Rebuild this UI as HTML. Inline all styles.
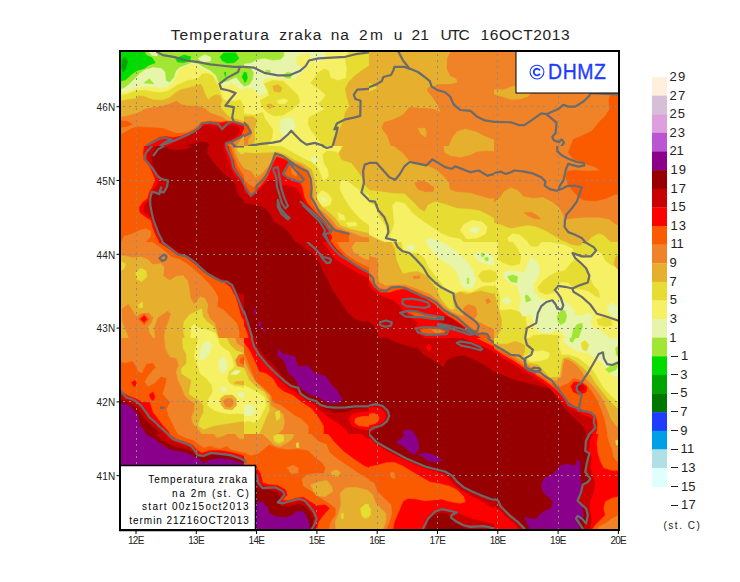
<!DOCTYPE html>
<html><head><meta charset="utf-8"><title>Temperatura zraka</title><style>
html,body{margin:0;padding:0;background:#fff}
#w{position:relative;width:740px;height:582px;overflow:hidden;background:#fff;font-family:"Liberation Sans",sans-serif;color:#111}
.t{position:absolute;white-space:nowrap;line-height:1}

</style></head><body><div id="w">
<svg width="740" height="582" viewBox="0 0 740 582" style="position:absolute;left:0;top:0">
<defs><clipPath id="mapclip"><rect x="120" y="51" width="499" height="479"/></clipPath></defs>
<g clip-path="url(#mapclip)">
<rect x="120" y="51" width="499" height="479" fill="#f08228"/>
<clipPath id="c0"><rect x="119" y="50" width="125" height="96"/></clipPath>
<g clip-path="url(#c0)" stroke-linejoin="round">
<rect x="119" y="50" width="125" height="96" fill="#f08228"/>
<polygon fill="#e6af2d" stroke="#e6af2d" stroke-width="0.6" points="119.0,50.0 244.0,50.0 244.0,122.3 237.2,121.8 232.2,121.8 227.1,120.6 222.4,116.7 215.3,114.2 210.2,112.5 205.1,108.3 198.4,105.7 189.9,105.7 181.5,104.1 176.4,100.7 168.0,104.1 157.9,106.6 146.0,108.3 137.6,112.5 129.1,115.0 119.0,117.1"/>
<polygon fill="#e6dc32" stroke="#e6dc32" stroke-width="0.6" points="119.0,50.0 244.0,50.0 244.0,120.9 237.2,118.9 229.6,116.7 225.1,112.5 220.7,106.6 222.4,100.7 220.4,95.3 216.1,94.3 211.1,96.5 208.5,99.3 205.5,94.3 203.5,88.0 200.9,83.4 194.2,85.8 188.3,87.5 180.7,89.2 175.6,92.2 169.7,97.3 162.1,99.8 152.8,99.3 144.3,95.9 138.4,95.3 136.7,98.1 129.1,99.0 119.0,100.7"/>
<polygon fill="#f5f064" stroke="#f5f064" stroke-width="0.6" points="119.0,50.0 244.0,50.0 244.0,105.7 240.5,99.2 234.0,100.8 227.6,100.8 223.7,99.0 220.4,90.5 218.7,86.3 216.1,81.2 212.8,75.3 206.8,72.8 201.8,73.6 198.4,77.9 193.3,79.1 186.6,80.4 181.5,82.9 177.3,84.6 174.7,86.3 168.0,90.5 161.2,92.2 152.8,91.4 144.3,89.7 135.9,90.5 127.4,93.6 119.0,95.3"/>
<polygon fill="#e6f5aa" stroke="#e6f5aa" stroke-width="0.6" points="119.0,50.0 244.0,50.0 244.0,90.0 240.5,88.9 236.2,85.6 231.8,82.4 227.6,85.6 221.0,84.6 217.8,80.4 213.6,73.6 206.8,71.1 201.8,68.6 196.7,64.4 191.6,63.5 184.9,66.0 178.1,70.3 175.6,75.3 173.1,82.1 168.0,86.3 161.2,88.0 152.8,86.3 144.3,86.3 135.9,87.5 129.1,90.5 119.0,92.6"/>
<polygon fill="#a0e632" stroke="#a0e632" stroke-width="0.6" points="119.0,50.0 244.8,50.0 244.8,86.8 240.5,82.4 236.2,77.0 226.4,81.4 218.8,82.4 216.1,75.3 210.2,70.3 203.5,66.9 198.4,63.5 191.6,62.2 186.6,64.4 179.8,66.9 175.6,71.1 173.9,77.0 169.7,82.1 166.3,80.4 165.5,72.0 161.2,67.7 152.8,66.9 144.3,69.4 139.3,73.6 135.0,77.9 130.0,82.9 124.9,87.2 119.0,89.7"/>
<polygon fill="#a0e632" stroke="#a0e632" stroke-width="0.6" points="144.3,82.9 149.4,78.7 153.6,83.8"/>
<polygon fill="#e6f5aa" stroke="#e6f5aa" stroke-width="0.6" points="149.4,52.0 158.7,52.0 157.0,55.9 151.9,55.4"/>
<polygon fill="#e6f5aa" stroke="#e6f5aa" stroke-width="0.6" points="198.4,58.4 204.3,54.7 210.2,56.8 211.1,60.5 205.1,62.2 200.9,61.0"/>
<polygon fill="#00dc00" stroke="#00dc00" stroke-width="0.6" points="119.0,50.0 144.3,50.0 146.0,55.1 151.9,57.6 155.3,62.7 148.6,65.2 144.3,68.6 137.6,70.3 132.5,73.6 125.8,79.6 121.0,81.2 119.0,81.2"/>
<polygon fill="#00dc00" stroke="#00dc00" stroke-width="0.6" points="175.6,58.4 184.0,55.1 190.8,56.8 189.9,60.5 183.2,62.7 177.3,61.8"/>
<polygon fill="#00dc00" stroke="#00dc00" stroke-width="0.6" points="220.0,56.8 223.7,53.0 235.6,52.7 238.9,58.4 233.9,62.7 227.1,63.0 222.0,60.5"/>
<polygon fill="#00dc00" stroke="#00dc00" stroke-width="0.6" points="242.1,77.0 244.0,72.6 247.0,77.0 244.8,81.9"/>
<polygon fill="#00dc00" stroke="#00dc00" stroke-width="0.6" points="224.2,72.8 225.9,72.1 225.4,76.5"/>
<polygon fill="#00a500" stroke="#00a500" stroke-width="0.6" points="122.7,58.4 125.8,57.6 127.4,61.8 125.8,68.6 123.2,72.0 121.5,66.9"/>
<polygon fill="#fa5a00" stroke="#fa5a00" stroke-width="0.6" points="119.0,135.3 125.8,131.9 131.7,128.5 137.6,126.9 152.8,127.7 162.9,128.5 169.7,131.1 176.4,133.6 186.6,132.8 193.3,129.4 198.4,126.0 200.9,122.3 210.2,120.9 220.4,121.8 227.1,120.9 232.2,121.8 237.2,121.8 244.0,124.3 244.0,145.9 119.0,145.9"/>
<polygon fill="#fa5a00" stroke="#fa5a00" stroke-width="0.6" points="119.0,120.9 127.4,121.5 132.2,124.3 126.6,126.4 119.0,127.4"/>
<polygon fill="#ff0000" stroke="#ff0000" stroke-width="0.6" points="146.0,145.9 152.8,141.2 159.5,137.8 165.5,136.5 173.1,137.8 181.5,136.1 189.9,132.8 196.7,129.1 201.8,124.0 210.2,122.3 220.4,123.0 227.1,121.8 237.2,123.0 244.0,125.2 244.0,129.4 241.5,135.3 237.2,137.8 231.3,141.2 225.8,142.9 225.4,145.9"/>
<polygon fill="#c80000" stroke="#c80000" stroke-width="0.6" points="168.0,145.9 174.7,142.1 186.6,137.0 195.0,132.8 201.8,126.9 208.5,125.2 217.0,126.9 222.0,129.1 227.1,125.2 235.6,125.2 239.8,128.5 238.1,134.5 232.2,138.7 226.3,141.2 222.9,145.9"/>
<polygon fill="#f08228" stroke="#f08228" stroke-width="0.6" points="244.0,130.2 242.0,135.8 238.1,138.7 232.2,142.6 228.8,145.9 244.0,145.9"/>
<polygon fill="#e6af2d" stroke="#e6af2d" stroke-width="0.6" points="244.0,134.5 241.0,139.5 237.2,145.9 244.0,145.9"/>
<polygon fill="#960000" stroke="#960000" stroke-width="0.6" points="186.6,145.9 193.3,143.8 200.1,142.1 206.8,142.6 210.2,145.9"/>
</g>
<clipPath id="c1"><rect x="244" y="50" width="125" height="96"/></clipPath>
<g clip-path="url(#c1)" stroke-linejoin="round">
<rect x="244" y="50" width="125" height="96" fill="#f5f064"/>
<polygon fill="#e6f5aa" stroke="#e6f5aa" stroke-width="0.6" points="244.0,50.0 325.1,50.0 324.7,57.6 318.3,62.2 312.4,60.5 307.3,66.0 301.4,72.8 294.7,77.9 287.9,79.6 277.8,77.9 269.3,77.9 262.6,79.6 264.3,86.3 266.8,92.2 260.9,95.3 255.8,92.2 253.3,88.0 244.0,88.0"/>
<polygon fill="#a0e632" stroke="#a0e632" stroke-width="0.6" points="244.0,50.0 283.7,50.0 283.7,55.9 280.3,59.3 272.7,60.1 264.3,58.1 257.5,59.3 250.8,62.7 244.0,63.5"/>
<polygon fill="#a0e632" stroke="#a0e632" stroke-width="0.6" points="244.0,67.7 250.8,68.6 253.3,72.8 252.4,79.6 249.1,84.6 244.0,86.3"/>
<polygon fill="#00dc00" stroke="#00dc00" stroke-width="0.6" points="244.0,72.0 246.5,72.8 247.4,77.9 245.7,82.1 244.0,82.1"/>
<polygon fill="#a0e632" stroke="#a0e632" stroke-width="0.6" points="282.9,75.3 287.9,72.0 292.1,73.6 290.5,78.4 285.4,77.9"/>
<polygon fill="#a0e632" stroke="#a0e632" stroke-width="0.6" points="265.1,70.6 269.3,69.9 271.0,72.0 266.8,72.8"/>
<polygon fill="#f5f064" stroke="#f5f064" stroke-width="0.6" points="296.4,57.6 303.1,54.2 310.7,54.2 309.0,60.1 303.1,66.9 297.2,65.2"/>
<polygon fill="#e6dc32" stroke="#e6dc32" stroke-width="0.6" points="264.3,83.8 272.7,80.4 282.9,81.2 291.3,88.9 298.1,95.6 299.7,102.4 293.0,109.1 282.9,115.0 274.4,115.9 267.6,112.5 262.6,107.4 260.0,100.7 269.3,95.6 267.6,89.7"/>
<polygon fill="#f5f064" stroke="#f5f064" stroke-width="0.6" points="276.9,100.7 284.5,98.6 287.9,100.7 284.5,104.1 278.6,103.7"/>
<polygon fill="#e6af2d" stroke="#e6af2d" stroke-width="0.6" points="272.7,86.3 277.8,84.6 282.0,88.0 280.3,92.2 274.4,91.4"/>
<polygon fill="#e6af2d" stroke="#e6af2d" stroke-width="0.6" points="266.8,104.9 271.0,103.7 273.6,106.6 269.3,108.8"/>
<polygon fill="#e6dc32" stroke="#e6dc32" stroke-width="0.6" points="310.7,82.9 318.3,72.8 324.2,68.9 328.5,71.1 330.5,77.9 338.6,80.7 346.2,77.9 347.0,68.6 345.4,60.1 348.7,52.0 369.0,52.0 369.0,145.9 323.4,145.9 318.3,139.5 311.6,131.1 308.2,124.3 309.0,117.6 318.3,112.5 325.1,109.1 318.3,104.1 323.4,99.0 325.9,94.8 320.0,89.7 314.9,86.3"/>
<polygon fill="#e6af2d" stroke="#e6af2d" stroke-width="0.6" points="369.0,66.0 362.2,70.3 355.5,75.3 348.7,82.1 345.4,88.9 347.0,97.3 349.6,105.7 345.4,112.5 343.7,120.9 338.6,131.1 333.5,137.8 331.8,145.9 369.0,145.9"/>
<polygon fill="#e6dc32" stroke="#e6dc32" stroke-width="0.6" points="244.0,114.2 254.1,115.0 262.6,112.5 264.3,117.6 267.6,122.6 272.7,129.4 271.9,137.8 267.6,145.9 244.0,145.9"/>
<polygon fill="#e6af2d" stroke="#e6af2d" stroke-width="0.6" points="244.0,116.7 252.4,116.7 256.7,119.3 255.8,124.3 254.1,131.1 255.0,139.5 252.4,145.9 244.0,145.9"/>
<polygon fill="#f08228" stroke="#f08228" stroke-width="0.6" points="244.0,122.6 248.2,124.3 251.6,131.1 250.8,136.1 248.2,139.5 247.4,145.9 244.0,145.9"/>
<polygon fill="#fa5a00" stroke="#fa5a00" stroke-width="0.6" points="244.0,124.3 246.5,126.0 249.1,131.9 247.4,135.3 244.0,135.3"/>
<polygon fill="#e6f5aa" stroke="#e6f5aa" stroke-width="0.6" points="280.3,120.9 286.2,117.6 293.8,119.3 295.5,126.0 293.0,131.1 287.9,134.5 282.9,137.8 280.3,131.1"/>
</g>
<clipPath id="c2"><rect x="369" y="50" width="125" height="96"/></clipPath>
<g clip-path="url(#c2)" stroke-linejoin="round">
<rect x="369" y="50" width="125" height="96" fill="#e6af2d"/>
<polygon fill="#f08228" stroke="#f08228" stroke-width="0.6" points="494.0,50.0 451.8,50.0 447.5,58.4 447.0,68.6 450.1,75.3 456.8,78.7 457.7,82.9 450.1,84.6 439.9,84.6 428.1,88.0 427.3,90.5 433.2,98.1 438.3,105.7 440.8,112.5 433.2,109.1 419.7,108.3 409.5,107.4 402.8,115.0 394.3,119.3 384.2,122.6 381.7,127.7 387.6,136.1 391.0,145.9 448.4,145.9 451.8,137.8 456.8,131.1 465.3,128.5 475.4,131.1 485.6,136.1 494.0,139.5"/>
<polygon fill="#e6af2d" stroke="#e6af2d" stroke-width="0.6" points="418.0,128.5 424.7,128.0 426.4,132.8 425.6,137.0 421.4,134.5"/>
<polygon fill="#e6dc32" stroke="#e6dc32" stroke-width="0.6" points="369.0,82.9 374.1,85.5 376.6,88.0 369.0,91.4"/>
</g>
<clipPath id="c3"><rect x="494" y="50" width="126" height="96"/></clipPath>
<g clip-path="url(#c3)" stroke-linejoin="round">
<rect x="494" y="50" width="126" height="96" fill="#f08228"/>
<polygon fill="#e6af2d" stroke="#e6af2d" stroke-width="0.6" points="494.0,89.7 504.1,89.7 512.6,86.3 516.8,86.3 516.8,92.2 530.3,93.1 527.8,96.5 519.3,99.0 510.9,99.3 502.4,96.5 494.0,94.3"/>
<polygon fill="#fa5a00" stroke="#fa5a00" stroke-width="0.6" points="619.8,93.1 610.6,94.3 608.9,100.7 609.7,109.1 605.5,115.9 598.7,122.6 592.0,131.1 581.8,136.1 573.4,139.5 570.9,145.9 619.8,145.9"/>
</g>
<clipPath id="c4"><rect x="119" y="146" width="125" height="96"/></clipPath>
<g clip-path="url(#c4)" stroke-linejoin="round">
<rect x="119" y="146" width="125" height="96" fill="#fa5a00"/>
<polygon fill="#ff0000" stroke="#ff0000" stroke-width="0.6" points="144.3,146.0 143.5,152.8 144.3,159.5 149.4,166.3 152.8,173.0 155.3,179.8 152.8,186.5 149.4,192.5 147.7,198.4 142.6,202.6 139.3,207.7 140.1,212.7 146.0,216.9 151.1,220.3 152.8,227.1 155.3,233.8 159.5,241.9 244.8,241.9 244.8,146.0"/>
<polygon fill="#c80000" stroke="#c80000" stroke-width="0.6" points="148.6,146.0 146.9,154.4 148.6,161.2 152.8,168.0 156.2,174.7 159.5,179.8 157.0,185.7 151.9,190.8 150.2,196.7 148.6,201.7 144.3,205.1 143.5,211.0 147.7,215.3 151.9,217.8 154.5,225.4 157.0,232.1 161.2,241.9 244.8,241.9 244.8,188.2 240.6,182.3 235.6,177.2 231.3,170.5 228.8,162.9 225.8,154.4 222.9,146.0"/>
<polygon fill="#960000" stroke="#960000" stroke-width="0.6" points="154.5,151.1 151.9,157.8 152.8,164.6 157.0,171.3 161.2,177.2 168.0,180.6 166.3,188.2 161.2,194.1 155.3,193.3 151.9,195.8 151.1,203.4 151.1,213.6 153.6,220.3 157.0,225.4 159.5,233.8 163.8,241.9 244.8,241.9 244.8,200.9 238.9,196.7 236.4,191.6 234.7,184.0 230.5,178.9 223.7,173.9 217.0,167.1 211.9,160.4 206.8,152.8 207.7,146.0 193.3,146.0 186.6,149.4 174.7,150.2 166.3,148.5 161.2,146.0 157.0,146.0"/>
<polygon fill="#fa5a00" stroke="#fa5a00" stroke-width="0.6" points="228.8,146.0 230.5,152.8 233.9,160.4 235.6,168.0 239.8,174.7 244.8,180.6 244.8,146.0"/>
<polygon fill="#f08228" stroke="#f08228" stroke-width="0.6" points="231.3,146.0 233.0,152.8 235.6,159.5 238.1,166.3 242.3,173.0 244.8,176.4 244.8,146.0"/>
<polygon fill="#e6af2d" stroke="#e6af2d" stroke-width="0.6" points="233.9,146.0 235.6,152.8 238.1,158.7 241.5,164.6 244.8,168.8 244.8,146.0"/>
<polygon fill="#e6dc32" stroke="#e6dc32" stroke-width="0.6" points="237.2,147.7 244.8,147.7 244.8,153.6 240.6,153.6 238.1,151.1"/>
<polygon fill="#f08228" stroke="#f08228" stroke-width="0.6" points="121.5,241.9 124.1,236.4 132.5,233.8 139.3,230.5 146.0,228.8 151.1,231.3 150.2,237.2 146.0,241.9"/>
</g>
<clipPath id="c5"><rect x="244" y="146" width="125" height="96"/></clipPath>
<g clip-path="url(#c5)" stroke-linejoin="round">
<rect x="244" y="146" width="125" height="96" fill="#e6dc32"/>
<polygon fill="#f5f064" stroke="#f5f064" stroke-width="0.6" points="282.0,146.0 291.3,151.1 301.4,157.0 311.6,162.0 317.5,166.3 320.9,173.9 323.4,180.6 328.5,176.4 327.6,169.6 323.4,162.9 322.5,154.4 326.8,150.2 335.2,151.1 339.4,153.6 341.1,146.0"/>
<polygon fill="#f5f064" stroke="#f5f064" stroke-width="0.6" points="340.3,182.3 345.4,179.8 352.1,184.9 358.9,189.9 365.6,194.1 369.8,195.8 369.8,225.4 362.2,220.3 355.5,213.6 348.7,205.1 343.7,196.7 340.3,189.9"/>
<polygon fill="#f5f064" stroke="#f5f064" stroke-width="0.6" points="317.5,195.0 321.7,190.8 327.6,193.3 331.8,199.2 330.1,205.1 323.4,206.8 318.3,202.6"/>
<polygon fill="#f5f064" stroke="#f5f064" stroke-width="0.6" points="337.8,212.7 343.7,215.3 345.4,220.3 339.4,219.5"/>
<polygon fill="#f5f064" stroke="#f5f064" stroke-width="0.6" points="346.2,222.9 355.5,222.0 357.2,225.4 348.7,226.2"/>
<polygon fill="#e6f5aa" stroke="#e6f5aa" stroke-width="0.6" points="310.7,157.8 315.8,157.0 317.5,161.2 313.3,162.9"/>
<polygon fill="#e6f5aa" stroke="#e6f5aa" stroke-width="0.6" points="320.9,196.7 325.1,198.4 326.8,201.7 322.5,201.7"/>
<polygon fill="#e6af2d" stroke="#e6af2d" stroke-width="0.6" points="369.8,146.0 343.7,146.0 338.9,152.8 341.5,159.5 351.6,162.9 356.7,169.6 361.7,176.4 365.1,184.9 370.2,190.3"/>
<polygon fill="#e6af2d" stroke="#e6af2d" stroke-width="0.6" points="244.0,152.8 254.1,153.6 264.3,153.1 272.7,152.8 277.8,151.9 286.2,155.3 294.7,160.4 303.1,163.7 311.6,169.6 314.1,178.1 315.8,188.2 316.6,198.4 321.7,206.8 328.5,211.9 335.2,218.6 340.3,225.4 348.7,228.8 358.9,231.3 369.8,233.8 369.8,241.9 244.0,241.9"/>
<polygon fill="#f08228" stroke="#f08228" stroke-width="0.6" points="244.0,168.8 250.8,171.3 255.8,178.1 260.9,174.7 266.0,169.6 271.0,162.9 275.2,155.3 284.5,157.0 293.0,162.0 301.4,165.4 309.0,171.3 311.6,179.8 312.4,189.9 313.3,200.1 318.3,208.5 325.1,213.6 331.8,220.3 336.9,227.1 345.4,230.5 353.8,233.8 362.2,237.2 369.8,238.1 369.8,241.9 244.0,241.9"/>
<polygon fill="#fa5a00" stroke="#fa5a00" stroke-width="0.6" points="244.0,179.8 249.1,184.9 254.1,187.4 259.2,181.5 265.1,175.6 269.3,168.0 272.7,162.0 276.1,156.1 284.5,158.2 292.1,162.9 299.7,167.1 306.5,172.2 309.0,179.8 310.2,189.9 310.7,200.1 315.8,209.3 322.5,215.3 329.3,222.0 334.4,228.8 342.0,231.3 348.7,233.0 348.7,241.9 244.0,241.9"/>
<polygon fill="#ff0000" stroke="#ff0000" stroke-width="0.6" points="244.0,185.7 250.8,195.0 255.8,190.8 262.6,184.0 267.6,177.2 271.0,169.6 273.6,162.9 276.9,157.0 284.5,159.5 289.6,162.9 286.2,169.6 282.9,174.7 287.1,178.1 294.7,179.8 299.7,182.3 302.3,188.2 304.0,196.7 307.3,203.4 313.3,210.2 320.0,216.9 325.9,223.7 328.5,230.5 331.8,237.2 330.1,241.9 244.0,241.9"/>
<polygon fill="#f08228" stroke="#f08228" stroke-width="0.6" points="291.3,168.0 294.7,167.1 297.2,172.2 296.4,176.4 292.1,173.9"/>
<polygon fill="#c80000" stroke="#c80000" stroke-width="0.6" points="244.0,192.5 250.8,196.7 256.7,193.3 263.4,185.7 269.3,179.8 277.8,180.6 280.3,186.5 286.2,184.9 296.4,188.2 300.6,195.0 303.1,201.7 308.2,207.7 314.9,213.6 320.9,220.3 325.1,227.1 327.6,233.8 328.5,241.9 244.0,241.9"/>
<polygon fill="#960000" stroke="#960000" stroke-width="0.6" points="244.0,203.4 254.1,205.1 264.3,207.7 269.3,213.6 273.6,222.0 282.9,227.1 289.6,233.8 294.7,241.9 244.0,241.9"/>
</g>
<clipPath id="c6"><rect x="369" y="146" width="125" height="96"/></clipPath>
<g clip-path="url(#c6)" stroke-linejoin="round">
<rect x="369" y="146" width="125" height="96" fill="#e6af2d"/>
<polygon fill="#f08228" stroke="#f08228" stroke-width="0.6" points="394.3,146.0 402.8,152.8 409.5,160.4 419.7,164.6 428.1,165.4 436.6,169.6 443.3,175.6 449.2,182.3 450.1,189.1 456.8,191.6 470.4,192.5 480.5,195.8 490.6,198.4 494.8,197.5 494.8,151.9 487.2,151.1 477.1,151.9 470.4,155.3 460.2,157.8 450.1,156.1 444.2,152.8 443.3,146.0"/>
<polygon fill="#f08228" stroke="#f08228" stroke-width="0.6" points="414.6,183.2 419.7,180.6 426.4,182.3 434.0,187.4 433.2,191.6 424.7,191.6 418.0,189.1"/>
<polygon fill="#e6dc32" stroke="#e6dc32" stroke-width="0.6" points="369.0,190.3 379.1,191.6 391.0,193.3 404.5,194.1 412.9,201.7 419.7,209.3 424.7,211.9 428.1,205.1 434.9,201.7 445.0,204.3 456.8,208.5 470.4,209.3 480.5,211.0 494.8,218.6 494.8,241.9 369.0,241.9"/>
<polygon fill="#f5f064" stroke="#f5f064" stroke-width="0.6" points="369.0,203.4 374.1,205.1 379.1,216.9 385.0,225.4 387.6,233.8 389.3,241.9 369.0,241.9"/>
<polygon fill="#f5f064" stroke="#f5f064" stroke-width="0.6" points="392.6,205.1 396.0,201.7 404.5,203.4 412.9,213.6 421.4,220.3 431.5,227.1 441.6,233.8 450.1,237.2 460.2,238.9 463.6,241.9 387.6,241.9 391.0,233.8 394.3,223.7 393.5,213.6"/>
<polygon fill="#f5f064" stroke="#f5f064" stroke-width="0.6" points="460.2,230.5 463.6,224.5 472.0,220.3 482.2,222.0 487.2,227.1 485.6,233.8 477.1,238.1 467.0,238.9"/>
<polygon fill="#e6f5aa" stroke="#e6f5aa" stroke-width="0.6" points="469.5,229.6 473.7,227.1 479.6,228.8 477.1,233.0 472.0,232.5"/>
<polygon fill="#e6f5aa" stroke="#e6f5aa" stroke-width="0.6" points="425.9,239.9 428.1,238.7 432.9,238.7 438.3,240.6 440.8,242.6 425.9,242.6"/>
<polygon fill="#e6af2d" stroke="#e6af2d" stroke-width="0.6" points="368.2,234.7 377.8,239.4 385.0,242.6 368.2,242.6"/>
</g>
<clipPath id="c7"><rect x="494" y="146" width="126" height="96"/></clipPath>
<g clip-path="url(#c7)" stroke-linejoin="round">
<rect x="494" y="146" width="126" height="96" fill="#f08228"/>
<polygon fill="#fa5a00" stroke="#fa5a00" stroke-width="0.6" points="570.9,146.0 568.3,152.8 573.4,158.7 583.5,162.9 595.4,167.1 600.4,170.5 588.6,171.3 575.1,170.5 567.5,171.3 565.8,177.2 568.3,184.9 573.4,191.6 578.5,196.7 583.5,200.1 595.4,200.9 605.5,198.4 615.6,194.1 619.8,195.0 619.8,146.0"/>
<polygon fill="#e6af2d" stroke="#e6af2d" stroke-width="0.6" points="494.0,202.6 500.8,196.7 504.1,191.6 510.9,187.9 517.6,190.3 523.6,196.7 532.9,198.4 543.0,197.5 551.4,201.7 558.2,206.8 562.4,213.6 564.9,220.3 573.4,218.6 585.2,217.8 598.7,217.8 608.9,219.5 615.6,224.5 619.8,226.2 619.8,241.9 494.0,241.9"/>
<polygon fill="#f08228" stroke="#f08228" stroke-width="0.6" points="524.4,212.7 531.2,212.2 537.9,216.1 540.5,219.0 534.5,218.6 527.8,215.6"/>
<polygon fill="#e6dc32" stroke="#e6dc32" stroke-width="0.6" points="494.0,222.9 502.4,225.4 510.9,228.8 519.3,227.1 527.8,225.4 536.2,227.1 544.7,230.5 553.1,235.5 561.6,240.6 564.9,241.9 494.0,241.9"/>
<polygon fill="#e6dc32" stroke="#e6dc32" stroke-width="0.6" points="587.8,241.9 592.0,237.2 598.7,233.8 603.8,235.5 608.9,240.6 610.6,241.9"/>
<polygon fill="#f5f064" stroke="#f5f064" stroke-width="0.6" points="507.5,238.1 512.6,233.8 519.3,234.7 524.4,238.9 527.8,241.9 509.2,241.9"/>
</g>
<clipPath id="c8"><rect x="119" y="242" width="125" height="96"/></clipPath>
<g clip-path="url(#c8)" stroke-linejoin="round">
<rect x="119" y="242" width="125" height="96" fill="#e6af2d"/>
<polygon fill="#f08228" stroke="#f08228" stroke-width="0.6" points="119.0,242.0 119.0,254.7 125.8,255.5 132.5,257.2 141.0,256.4 147.7,258.9 152.8,264.0 161.2,263.1 164.6,267.3 163.8,275.8 169.7,280.0 176.4,275.8 183.2,274.9 188.3,280.9 189.9,289.3 190.8,297.7 194.2,303.7 197.5,299.4 200.1,296.1 205.1,297.7 208.5,304.5 207.7,311.3 210.2,318.0 215.3,323.1 217.8,331.5 218.7,337.9 244.8,337.9 244.8,242.0"/>
<polygon fill="#f08228" stroke="#f08228" stroke-width="0.6" points="122.4,308.7 128.3,304.5 131.7,309.6 135.9,316.3 141.0,313.8 148.6,312.9 152.8,317.2 151.1,323.1 147.7,326.5 149.4,333.2 152.8,337.9 129.1,337.9 125.8,329.8 122.4,321.4"/>
<polygon fill="#f08228" stroke="#f08228" stroke-width="0.6" points="157.9,318.0 168.0,311.3 170.5,313.8 168.0,321.4 164.6,329.8 163.8,337.9 155.3,337.9 154.5,328.1"/>
<polygon fill="#fa5a00" stroke="#fa5a00" stroke-width="0.6" points="152.8,242.0 162.9,248.8 171.4,256.4 179.8,258.9 188.3,264.0 195.0,269.9 203.5,277.5 210.2,284.2 215.3,291.0 218.7,297.7 217.8,306.2 223.7,309.6 230.5,316.3 237.2,323.1 239.8,331.5 239.8,337.9 244.8,337.9 244.8,242.0"/>
<polygon fill="#ff0000" stroke="#ff0000" stroke-width="0.6" points="158.7,242.0 168.0,247.9 176.4,253.8 186.6,257.2 195.0,264.0 203.5,271.6 213.6,278.3 223.7,281.7 230.5,286.8 235.6,296.1 238.9,306.2 241.5,316.3 244.8,321.4 244.8,242.0"/>
<polygon fill="#c80000" stroke="#c80000" stroke-width="0.6" points="162.1,242.0 173.1,249.6 181.5,254.7 189.9,258.0 198.4,265.6 206.8,273.2 217.0,278.3 227.1,281.7 232.2,286.3 237.2,296.1 241.5,306.2 244.8,311.3 244.8,242.0"/>
<polygon fill="#960000" stroke="#960000" stroke-width="0.6" points="164.6,242.0 174.7,248.8 183.2,253.8 191.6,258.0 200.1,265.6 208.5,273.2 218.7,277.5 228.8,280.9 233.9,287.6 237.2,292.7 244.8,294.4 244.8,242.0"/>
<polygon fill="#e6dc32" stroke="#e6dc32" stroke-width="0.6" points="135.9,272.4 141.0,268.2 146.0,270.7 146.9,276.6 141.8,281.7 136.7,279.2"/>
<polygon fill="#e6dc32" stroke="#e6dc32" stroke-width="0.6" points="121.5,261.4 125.8,264.0 124.1,268.2 121.5,270.7"/>
<polygon fill="#e6dc32" stroke="#e6dc32" stroke-width="0.6" points="138.4,304.5 142.6,302.0 142.6,307.9 139.3,307.9"/>
<polygon fill="#e6dc32" stroke="#e6dc32" stroke-width="0.6" points="184.0,321.4 189.9,314.6 196.7,311.3 201.8,308.7 202.6,316.3 206.8,321.4 213.6,326.5 218.7,337.9 184.9,337.9 183.2,329.8"/>
<polygon fill="#f5f064" stroke="#f5f064" stroke-width="0.6" points="190.8,337.9 191.6,326.5 194.2,323.9 198.4,328.1 206.8,329.8 215.3,333.2 217.0,337.9"/>
<polygon fill="#fa5a00" stroke="#fa5a00" stroke-width="0.6" points="138.4,318.9 144.3,313.8 149.4,318.9 144.3,324.8"/>
<polygon fill="#ff0000" stroke="#ff0000" stroke-width="0.6" points="140.6,318.9 144.3,315.8 146.9,319.4 144.0,322.2"/>
</g>
<clipPath id="c9"><rect x="244" y="242" width="125" height="96"/></clipPath>
<g clip-path="url(#c9)" stroke-linejoin="round">
<rect x="244" y="242" width="125" height="96" fill="#960000"/>
<polygon fill="#c80000" stroke="#c80000" stroke-width="0.6" points="297.2,242.0 303.1,247.1 311.6,252.1 318.3,260.6 323.4,270.7 328.5,280.9 333.5,291.0 340.3,301.1 347.0,311.3 353.8,318.0 362.2,321.4 369.8,320.5 369.8,242.0"/>
<polygon fill="#ff0000" stroke="#ff0000" stroke-width="0.6" points="323.4,242.0 328.5,249.6 333.5,256.4 338.6,261.4 348.7,267.3 358.9,273.2 369.8,278.3 369.8,242.0"/>
<polygon fill="#fa5a00" stroke="#fa5a00" stroke-width="0.6" points="331.8,242.0 336.1,247.9 342.0,253.8 348.7,259.7 357.2,265.6 365.6,269.9 369.8,272.4 369.8,242.0"/>
<polygon fill="#f08228" stroke="#f08228" stroke-width="0.6" points="336.9,242.0 341.1,248.8 347.0,254.7 355.5,260.6 363.9,264.8 369.8,267.3 369.8,242.0"/>
<polygon fill="#e6af2d" stroke="#e6af2d" stroke-width="0.6" points="355.5,242.0 352.1,247.1 353.8,252.1 360.6,256.4 365.6,258.9 369.8,259.7 369.8,242.0"/>
<polygon fill="#ff0000" stroke="#ff0000" stroke-width="0.6" points="244.0,316.3 247.4,323.1 250.8,331.5 253.3,337.9 244.0,337.9"/>
<polygon fill="#fa5a00" stroke="#fa5a00" stroke-width="0.6" points="244.0,326.5 246.5,331.5 248.2,337.9 244.0,337.9"/>
<polygon fill="#8b008b" stroke="#8b008b" stroke-width="0.6" points="254.1,309.2 255.8,309.2 256.2,313.8 254.5,313.8"/>
<polygon fill="#8b008b" stroke="#8b008b" stroke-width="0.6" points="258.4,322.2 260.9,322.2 260.9,326.5 259.2,326.5"/>
<polygon fill="#8b008b" stroke="#8b008b" stroke-width="0.6" points="262.2,329.5 265.1,329.5 264.3,332.4"/>
</g>
<clipPath id="c10"><rect x="369" y="242" width="125" height="96"/></clipPath>
<g clip-path="url(#c10)" stroke-linejoin="round">
<rect x="369" y="242" width="125" height="96" fill="#f5f064"/>
<polygon fill="#e6f5aa" stroke="#e6f5aa" stroke-width="0.6" points="426.1,241.2 429.8,247.9 436.6,256.4 443.3,261.4 450.9,265.6 456.8,271.6 459.4,279.2 461.1,285.1 467.0,289.3 473.4,286.3 475.8,279.5 473.2,271.1 469.0,264.0 463.6,258.0 456.8,252.1 448.4,246.2 440.8,241.2"/>
<polygon fill="#e6f5aa" stroke="#e6f5aa" stroke-width="0.6" points="406.2,247.9 411.2,244.5 415.5,247.1 412.9,250.4 408.7,250.4"/>
<polygon fill="#e6f5aa" stroke="#e6f5aa" stroke-width="0.6" points="473.7,255.5 478.8,252.1 487.2,253.0 494.0,258.0 494.8,265.6 487.2,264.0 478.8,261.4"/>
<polygon fill="#a0e632" stroke="#a0e632" stroke-width="0.6" points="481.3,253.0 483.9,253.0 483.9,256.4 481.3,256.4"/>
<polygon fill="#a0e632" stroke="#a0e632" stroke-width="0.6" points="484.7,258.0 488.1,257.2 488.1,260.9 485.6,260.6"/>
<polygon fill="#a0e632" stroke="#a0e632" stroke-width="0.6" points="467.3,278.3 468.7,278.3 468.7,283.4 467.3,283.4"/>
<polygon fill="#e6dc32" stroke="#e6dc32" stroke-width="0.6" points="369.0,242.0 391.0,242.0 401.1,242.0 402.8,250.4 409.5,253.8 418.0,253.0 424.7,258.9 428.1,267.3 434.9,275.8 441.6,284.2 445.9,291.0 456.8,292.7 463.6,291.0 470.4,292.7 477.1,289.3 483.9,286.3 494.8,286.3 494.8,337.9 369.0,337.9"/>
<polygon fill="#e6dc32" stroke="#e6dc32" stroke-width="0.6" points="478.3,275.8 482.2,271.1 490.6,270.0 497.4,274.1 496.5,280.0 490.6,282.4 482.2,281.7"/>
<polygon fill="#e6af2d" stroke="#e6af2d" stroke-width="0.6" points="369.0,242.0 391.0,242.0 394.3,248.8 396.0,258.9 399.4,267.3 402.8,274.1 409.5,272.4 418.0,271.6 426.4,275.8 431.5,282.5 436.6,289.3 439.9,297.7 445.0,304.5 450.1,309.6 455.1,309.6 453.5,301.1 455.1,294.4 460.2,291.8 467.0,294.4 473.7,292.7 480.5,291.0 487.2,292.7 494.8,294.4 494.8,337.9 369.0,337.9"/>
<polygon fill="#f08228" stroke="#f08228" stroke-width="0.6" points="369.0,256.4 375.8,258.0 378.3,264.0 377.4,275.8 379.1,282.5 385.9,285.9 394.3,285.1 404.5,285.1 412.9,287.6 421.4,291.0 429.8,294.4 436.6,299.4 443.3,306.2 450.1,311.3 456.8,314.6 463.6,316.3 463.6,307.9 468.7,304.5 475.4,307.0 477.1,314.6 473.7,319.7 480.5,323.1 487.2,326.5 494.8,329.8 494.8,337.9 369.0,337.9"/>
<polygon fill="#f08228" stroke="#f08228" stroke-width="0.6" points="485.6,299.4 488.9,298.6 490.6,302.0 487.2,303.7"/>
<polygon fill="#f08228" stroke="#f08228" stroke-width="0.6" points="412.9,276.6 419.7,275.8 419.7,278.3 413.8,278.8"/>
<polygon fill="#fa5a00" stroke="#fa5a00" stroke-width="0.6" points="369.0,275.8 374.1,282.5 379.1,288.5 387.6,290.1 396.0,287.6 404.5,286.8 412.9,290.1 421.4,293.5 429.8,297.7 436.6,302.8 443.3,309.6 450.1,314.6 458.5,319.7 467.0,324.8 473.7,329.8 480.5,333.2 487.2,334.9 490.6,337.9 369.0,337.9"/>
<polygon fill="#ff0000" stroke="#ff0000" stroke-width="0.6" points="369.0,280.0 374.1,287.6 380.8,292.7 389.3,292.7 397.7,290.1 405.3,289.3 412.9,292.7 421.4,296.1 428.1,300.3 434.9,304.5 441.6,311.3 448.4,316.3 456.8,321.4 463.6,326.5 470.4,331.5 477.1,335.8 480.5,337.9 369.0,337.9"/>
<polygon fill="#c80000" stroke="#c80000" stroke-width="0.6" points="369.0,285.9 375.8,292.7 384.2,297.7 392.6,300.3 399.4,305.3 402.8,311.3 411.2,318.0 418.0,323.1 414.6,328.1 418.0,333.2 424.7,337.9 369.0,337.9"/>
<polygon fill="#c80000" stroke="#c80000" stroke-width="0.6" points="438.3,316.3 445.0,315.5 453.5,319.7 460.2,324.8 465.3,329.8 460.2,330.7 453.5,327.3 445.0,323.1 438.3,321.4"/>
<polygon fill="#960000" stroke="#960000" stroke-width="0.6" points="369.0,323.1 374.1,326.5 377.4,333.2 378.3,337.9 369.0,337.9"/>
<polygon fill="#fa5a00" stroke="#fa5a00" stroke-width="0.6" points="407.9,312.6 416.3,312.1 426.4,314.6 436.6,316.3 436.6,318.9 426.4,318.0 416.3,316.3"/>
<polygon fill="#fa5a00" stroke="#fa5a00" stroke-width="0.6" points="419.7,329.8 428.1,328.5 439.9,329.0 446.7,330.7 443.3,334.1 433.2,334.6 423.1,333.2"/>
<polygon fill="#f08228" stroke="#f08228" stroke-width="0.6" points="431.5,329.8 439.9,329.8 443.3,331.5 436.6,333.2"/>
</g>
<clipPath id="c11"><rect x="494" y="242" width="126" height="96"/></clipPath>
<g clip-path="url(#c11)" stroke-linejoin="round">
<rect x="494" y="242" width="126" height="96" fill="#f5f064"/>
<polygon fill="#e6dc32" stroke="#e6dc32" stroke-width="0.6" points="498.2,242.0 512.6,242.0 517.6,248.8 521.0,257.2 519.3,264.0 510.9,265.6 502.4,262.3 498.2,258.9"/>
<polygon fill="#e6dc32" stroke="#e6dc32" stroke-width="0.6" points="527.8,242.0 541.3,242.0 537.9,246.2 531.2,246.2"/>
<polygon fill="#e6dc32" stroke="#e6dc32" stroke-width="0.6" points="551.4,242.0 564.9,244.5 573.4,248.8 573.4,252.1 581.8,257.2 592.0,256.4 597.0,250.4 602.1,253.8 605.5,260.6 612.2,265.6 619.8,267.3 619.8,242.0"/>
<polygon fill="#e6dc32" stroke="#e6dc32" stroke-width="0.6" points="537.9,287.6 543.0,280.9 549.7,275.8 556.5,272.4 564.9,270.7 571.7,262.3 576.8,258.9 581.8,264.0 586.9,270.7 590.3,279.2 593.7,285.9 598.7,291.0 599.6,297.7 595.4,296.1 588.6,291.0 581.8,289.3 573.4,288.5 568.3,282.5 561.6,281.7 556.5,285.9 553.1,292.7 546.4,294.4 539.6,291.8"/>
<polygon fill="#e6dc32" stroke="#e6dc32" stroke-width="0.6" points="597.0,319.7 603.8,317.2 610.6,319.7 612.2,324.8 605.5,326.5 598.7,324.8"/>
<polygon fill="#e6dc32" stroke="#e6dc32" stroke-width="0.6" points="494.0,284.2 498.2,291.0 499.9,299.4 499.1,309.6 502.4,310.4 510.9,309.6 519.3,312.1 525.2,316.3 526.9,328.1 525.2,337.9 494.0,337.9"/>
<polygon fill="#e6af2d" stroke="#e6af2d" stroke-width="0.6" points="566.6,242.0 583.5,242.0 580.1,245.4 571.7,244.5"/>
<polygon fill="#e6af2d" stroke="#e6af2d" stroke-width="0.6" points="619.8,253.8 615.6,257.2 613.9,264.0 617.3,269.0 619.8,269.9"/>
<polygon fill="#e6af2d" stroke="#e6af2d" stroke-width="0.6" points="494.0,292.7 496.0,299.4 498.7,309.6 501.6,321.4 500.8,329.8 495.7,337.9 494.0,337.9"/>
<polygon fill="#e6f5aa" stroke="#e6f5aa" stroke-width="0.6" points="503.3,272.4 510.9,270.7 524.4,272.4 527.8,264.0 530.3,257.2 536.2,260.6 539.6,267.3 538.8,275.8 532.9,284.2 534.5,292.7 541.3,299.4 549.7,300.3 556.5,301.1 563.3,300.3 568.3,304.5 573.4,309.6 575.1,314.6 581.8,316.3 588.6,312.9 592.0,316.3 590.3,323.1 595.4,329.8 602.1,331.5 608.9,337.9 566.5,337.9 561.1,332.0 555.7,329.3 550.2,333.4 539.4,332.0 534.0,323.9 531.3,314.5 522.7,316.3 519.3,309.6 521.0,301.1 519.3,292.7 517.6,285.9 510.9,283.4 504.1,278.3"/>
<polygon fill="#e6f5aa" stroke="#e6f5aa" stroke-width="0.6" points="500.8,300.3 506.7,296.9 511.7,301.1 506.7,304.2"/>
<polygon fill="#e6f5aa" stroke="#e6f5aa" stroke-width="0.6" points="607.2,306.2 612.2,302.8 617.3,306.2 619.8,312.9 619.8,318.0 613.9,316.3 608.9,312.9"/>
<polygon fill="#e6dc32" stroke="#e6dc32" stroke-width="0.6" points="530.0,338.6 532.9,335.4 544.7,334.7 558.2,335.4 561.1,338.6"/>
<polygon fill="#e6dc32" stroke="#e6dc32" stroke-width="0.6" points="494.0,270.4 496.5,273.2 497.0,279.2 494.0,282.2"/>
<polygon fill="#a0e632" stroke="#a0e632" stroke-width="0.6" points="507.5,276.6 512.6,274.9 517.6,276.6 516.8,282.5 510.9,281.7"/>
<polygon fill="#a0e632" stroke="#a0e632" stroke-width="0.6" points="525.2,295.2 527.8,295.2 531.2,300.3 526.1,302.0"/>
<polygon fill="#a0e632" stroke="#a0e632" stroke-width="0.6" points="557.3,316.3 560.7,311.3 564.9,310.4 566.6,316.3 564.9,322.2 560.7,324.8 557.9,321.4"/>
<polygon fill="#a0e632" stroke="#a0e632" stroke-width="0.6" points="571.7,337.9 573.4,329.8 576.8,324.8 581.8,323.1 582.7,326.5 580.1,333.2 578.5,337.9"/>
</g>
<clipPath id="c12"><rect x="119" y="338" width="125" height="96"/></clipPath>
<g clip-path="url(#c12)" stroke-linejoin="round">
<rect x="119" y="338" width="125" height="96" fill="#f08228"/>
<polygon fill="#e6af2d" stroke="#e6af2d" stroke-width="0.6" points="164.6,338.0 165.5,348.1 169.7,356.6 176.4,358.3 179.0,365.0 176.4,371.8 178.1,380.2 182.3,388.7 184.9,395.4 189.9,400.5 195.0,403.0 194.2,410.6 191.6,417.4 193.3,424.1 198.4,429.2 201.8,433.9 244.8,433.9 244.8,338.0"/>
<polygon fill="#e6dc32" stroke="#e6dc32" stroke-width="0.6" points="182.3,338.0 183.2,348.1 186.6,354.9 186.6,363.3 181.5,368.4 181.5,373.5 186.6,376.9 191.6,380.2 189.9,388.7 189.1,393.7 193.3,397.1 200.1,400.5 203.5,405.6 203.5,412.3 200.1,419.1 198.4,425.8 203.5,429.2 213.6,425.8 223.7,424.1 233.9,422.5 244.8,420.8 244.8,338.0"/>
<polygon fill="#f5f064" stroke="#f5f064" stroke-width="0.6" points="198.4,338.0 195.9,348.1 194.2,356.6 197.5,365.0 200.1,373.5 206.8,378.5 211.9,385.3 212.8,392.1 208.5,398.8 207.7,405.6 213.6,409.8 220.4,412.3 228.8,414.0 237.2,413.2 244.8,414.0 244.8,387.0 237.2,386.1 230.5,383.6 227.1,378.5 228.8,371.8 233.9,366.7 232.2,358.3 228.8,351.5 222.0,347.3 218.7,343.1 217.8,338.0"/>
<polygon fill="#e6f5aa" stroke="#e6f5aa" stroke-width="0.6" points="203.5,343.1 208.5,340.5 211.9,344.8 210.2,351.5 205.1,358.3 200.9,360.8 199.2,354.9 200.9,348.1"/>
<polygon fill="#e6f5aa" stroke="#e6f5aa" stroke-width="0.6" points="219.5,360.0 222.9,356.6 226.3,360.0 227.1,368.4 223.7,373.5 220.4,371.8 218.7,365.0"/>
<polygon fill="#e6f5aa" stroke="#e6f5aa" stroke-width="0.6" points="220.4,387.8 224.6,387.0 227.1,390.4 222.0,392.1"/>
<polygon fill="#e6f5aa" stroke="#e6f5aa" stroke-width="0.6" points="237.2,393.7 243.2,392.1 244.8,393.7 244.8,398.0 238.9,397.1"/>
<polygon fill="#e6f5aa" stroke="#e6f5aa" stroke-width="0.6" points="235.6,370.1 240.6,370.9 237.2,374.3 230.5,374.3"/>
<polygon fill="#e6af2d" stroke="#e6af2d" stroke-width="0.6" points="220.4,398.8 224.6,395.4 232.2,395.1 236.4,398.8 236.4,405.6 232.2,409.8 224.6,408.9 221.2,404.7"/>
<polygon fill="#f08228" stroke="#f08228" stroke-width="0.6" points="223.4,400.8 227.1,398.5 232.2,399.1 233.5,403.9 230.5,407.3 225.4,406.4"/>
<polygon fill="#e6af2d" stroke="#e6af2d" stroke-width="0.6" points="227.1,338.0 230.5,344.8 235.6,349.8 244.8,353.2 244.8,338.0"/>
<polygon fill="#f08228" stroke="#f08228" stroke-width="0.6" points="235.6,338.0 237.2,343.1 242.3,346.4 244.8,347.3 244.8,338.0"/>
<polygon fill="#e6dc32" stroke="#e6dc32" stroke-width="0.6" points="244.8,377.2 237.2,378.2 230.5,378.5 228.5,381.9 233.9,385.6 244.8,387.3"/>
<polygon fill="#e6af2d" stroke="#e6af2d" stroke-width="0.6" points="244.8,381.1 235.6,381.6 233.9,383.6 244.8,385.0"/>
<polygon fill="#f08228" stroke="#f08228" stroke-width="0.6" points="244.8,354.0 238.9,354.9 235.6,360.0 237.2,365.9 244.8,367.6"/>
<polygon fill="#fa5a00" stroke="#fa5a00" stroke-width="0.6" points="244.8,356.6 240.6,358.3 239.8,362.5 244.8,365.0"/>
<polygon fill="#fa5a00" stroke="#fa5a00" stroke-width="0.6" points="119.0,362.5 125.8,363.3 132.5,361.6 135.9,366.7 137.6,371.8 142.6,373.5 144.3,368.4 146.9,364.2 152.8,363.3 155.3,367.6 151.1,371.8 146.9,376.9 144.3,381.9 147.7,387.0 154.5,383.6 161.2,376.9 166.3,378.5 164.6,387.0 162.1,393.7 166.3,398.8 169.7,402.2 166.3,408.9 168.0,415.7 171.4,422.5 174.7,429.2 177.3,433.9 119.0,433.9"/>
<polygon fill="#ff0000" stroke="#ff0000" stroke-width="0.6" points="119.0,389.5 124.1,393.7 129.1,396.3 135.9,398.8 142.6,402.2 149.4,402.2 151.1,407.3 152.8,412.3 157.9,419.1 162.9,425.8 168.0,430.9 169.7,433.9 119.0,433.9"/>
<polygon fill="#ff0000" stroke="#ff0000" stroke-width="0.6" points="131.7,382.3 135.0,380.6 136.7,384.5 133.9,386.6"/>
<polygon fill="#ff0000" stroke="#ff0000" stroke-width="0.6" points="149.4,394.6 152.8,392.1 154.8,396.3 153.6,400.5 150.8,398.8"/>
<polygon fill="#c80000" stroke="#c80000" stroke-width="0.6" points="119.0,393.7 125.8,398.8 132.5,401.3 137.6,403.9 144.3,408.9 148.6,415.7 152.8,420.8 159.5,427.5 164.6,433.9 119.0,433.9"/>
<polygon fill="#960000" stroke="#960000" stroke-width="0.6" points="119.0,398.8 125.8,401.3 132.5,404.7 137.6,408.9 141.0,414.0 146.0,420.8 151.1,425.8 156.2,430.1 159.5,433.9 119.0,433.9"/>
<polygon fill="#8b008b" stroke="#8b008b" stroke-width="0.6" points="119.0,403.9 125.8,404.2 130.8,407.3 135.9,412.3 138.4,419.1 140.1,425.8 144.3,430.9 146.0,433.9 119.0,433.9"/>
</g>
<clipPath id="c13"><rect x="244" y="338" width="125" height="96"/></clipPath>
<g clip-path="url(#c13)" stroke-linejoin="round">
<rect x="244" y="338" width="125" height="96" fill="#960000"/>
<polygon fill="#8b008b" stroke="#8b008b" stroke-width="0.6" points="277.8,349.0 282.9,354.0 294.7,356.6 298.1,366.7 308.2,365.9 314.9,373.5 325.1,376.0 331.8,385.3 336.9,390.4 342.0,398.8 338.6,403.0 328.5,403.0 318.3,397.1 308.2,393.7 299.7,387.0 294.7,378.5 287.9,371.8 284.5,361.6 277.8,354.9"/>
<polygon fill="#c80000" stroke="#c80000" stroke-width="0.6" points="255.8,338.0 257.5,346.4 264.3,356.6 274.4,366.7 282.9,376.9 291.3,384.5 298.1,387.0 301.4,393.7 309.9,398.8 318.3,403.0 325.1,408.9 335.2,413.2 345.4,412.3 353.8,408.9 369.8,408.1 369.8,433.9 244.0,433.9 244.0,338.0"/>
<polygon fill="#ff0000" stroke="#ff0000" stroke-width="0.6" points="251.6,338.0 254.1,348.1 260.9,359.1 271.0,369.2 279.5,380.2 289.6,388.7 298.1,393.7 306.5,401.3 314.9,405.6 321.7,412.3 328.5,417.4 338.6,424.1 345.4,429.2 348.7,433.9 244.0,433.9 244.0,338.0"/>
<polygon fill="#ff0000" stroke="#ff0000" stroke-width="0.6" points="369.8,411.5 360.6,412.3 352.1,414.0 348.7,419.1 352.1,425.8 360.6,429.2 369.8,430.1"/>
<polygon fill="#fa5a00" stroke="#fa5a00" stroke-width="0.6" points="244.0,343.1 249.1,349.8 254.1,360.0 259.2,371.8 266.0,373.5 272.7,378.5 277.8,387.0 284.5,392.1 293.0,395.4 301.4,402.2 311.6,408.9 318.3,417.4 323.4,425.8 323.4,433.9 244.0,433.9"/>
<polygon fill="#fa5a00" stroke="#fa5a00" stroke-width="0.6" points="369.8,416.5 362.2,416.5 355.5,418.2 354.6,422.5 358.9,425.8 369.8,426.7"/>
<polygon fill="#f08228" stroke="#f08228" stroke-width="0.6" points="244.0,353.2 247.4,361.6 251.6,371.8 255.8,381.9 264.3,388.7 271.0,395.4 272.7,402.2 281.2,405.6 287.9,410.6 294.7,415.7 301.4,419.1 308.2,425.8 308.2,433.9 244.0,433.9"/>
<polygon fill="#e6af2d" stroke="#e6af2d" stroke-width="0.6" points="244.0,360.0 249.1,371.8 254.1,380.2 262.6,388.7 269.3,395.4 271.0,405.6 276.1,408.9 282.9,414.0 284.5,422.5 282.9,429.2 277.8,433.9 244.0,433.9"/>
<polygon fill="#e6dc32" stroke="#e6dc32" stroke-width="0.6" points="244.0,368.4 249.1,380.2 255.8,387.0 264.3,392.1 268.5,400.5 269.3,410.6 266.0,417.4 262.6,425.8 259.2,433.9 244.0,433.9"/>
<polygon fill="#e6dc32" stroke="#e6dc32" stroke-width="0.6" points="275.2,412.3 279.5,410.6 280.3,417.4 276.9,420.8"/>
<polygon fill="#f5f064" stroke="#f5f064" stroke-width="0.6" points="244.0,385.3 250.8,388.7 257.5,392.1 264.3,397.1 266.0,405.6 262.6,412.3 259.2,419.1 254.1,422.5 247.4,420.8 244.0,422.5"/>
<polygon fill="#e6f5aa" stroke="#e6f5aa" stroke-width="0.6" points="244.0,405.6 249.1,404.7 254.1,407.3 255.8,412.3 250.8,415.7 244.0,415.7"/>
</g>
<clipPath id="c14"><rect x="369" y="338" width="125" height="96"/></clipPath>
<g clip-path="url(#c14)" stroke-linejoin="round">
<rect x="369" y="338" width="125" height="96" fill="#960000"/>
<polygon fill="#c80000" stroke="#c80000" stroke-width="0.6" points="387.6,338.0 399.4,343.1 409.5,346.4 418.0,348.1 423.1,354.0 431.5,359.1 438.3,363.3 443.3,366.7 446.7,360.0 453.5,356.6 463.6,354.9 473.7,359.1 483.9,364.2 490.6,368.4 494.8,373.5 494.8,338.0"/>
<polygon fill="#ff0000" stroke="#ff0000" stroke-width="0.6" points="463.6,338.0 470.4,341.4 478.8,344.8 487.2,348.1 494.8,351.5 494.8,338.0"/>
<polygon fill="#ff0000" stroke="#ff0000" stroke-width="0.6" points="426.4,347.3 429.0,343.9 431.2,347.3 429.8,351.2 427.3,349.8"/>
<polygon fill="#fa5a00" stroke="#fa5a00" stroke-width="0.6" points="477.1,338.0 483.9,341.4 490.6,344.8 494.8,346.4 494.8,338.0"/>
<polygon fill="#f08228" stroke="#f08228" stroke-width="0.6" points="483.9,338.0 490.6,341.4 494.8,343.1 494.8,338.0"/>
<polygon fill="#c80000" stroke="#c80000" stroke-width="0.6" points="369.0,404.7 375.8,403.9 382.5,405.6 388.4,410.6 390.1,415.7 387.6,421.6 382.5,425.8 375.8,429.2 369.0,432.6"/>
<polygon fill="#ff0000" stroke="#ff0000" stroke-width="0.6" points="369.0,408.1 375.8,407.3 382.5,409.8 385.9,414.9 384.2,420.8 379.1,424.1 372.4,426.7 369.0,428.4"/>
<polygon fill="#fa5a00" stroke="#fa5a00" stroke-width="0.6" points="369.0,414.0 374.1,413.2 378.3,415.7 379.1,419.1 375.8,423.3 369.0,425.0"/>
<polygon fill="#8b008b" stroke="#8b008b" stroke-width="0.6" points="402.8,433.9 403.6,430.6 409.5,429.7 412.9,431.8 413.3,433.9"/>
</g>
<clipPath id="c15"><rect x="494" y="338" width="126" height="96"/></clipPath>
<g clip-path="url(#c15)" stroke-linejoin="round">
<rect x="494" y="338" width="126" height="96" fill="#f5f064"/>
<polygon fill="#e6f5aa" stroke="#e6f5aa" stroke-width="0.6" points="563.3,338.0 564.9,343.1 571.7,348.1 580.1,351.5 588.6,353.2 595.4,358.3 602.1,363.3 608.9,371.8 615.6,376.9 619.8,376.0 619.8,338.0"/>
<polygon fill="#a0e632" stroke="#a0e632" stroke-width="0.6" points="570.0,338.0 575.1,338.0 572.5,342.2 570.0,341.4"/>
<polygon fill="#a0e632" stroke="#a0e632" stroke-width="0.6" points="605.5,369.2 612.2,365.0 618.2,362.5 619.8,363.3 615.6,370.1 608.9,372.6"/>
<polygon fill="#a0e632" stroke="#a0e632" stroke-width="0.6" points="615.6,348.1 619.8,344.8 619.8,358.3 616.5,354.9"/>
<polygon fill="#e6dc32" stroke="#e6dc32" stroke-width="0.6" points="581.0,343.1 585.2,340.5 588.6,344.8 586.9,350.7 582.7,349.8"/>
<polygon fill="#e6dc32" stroke="#e6dc32" stroke-width="0.6" points="494.0,338.0 558.2,338.0 559.0,348.1 561.6,354.9 568.3,354.9 578.5,358.3 586.9,365.0 593.7,371.8 598.7,380.2 603.8,388.7 610.6,395.4 617.3,402.2 619.8,405.6 619.8,433.9 494.0,433.9"/>
<polygon fill="#f5f064" stroke="#f5f064" stroke-width="0.6" points="525.2,356.6 532.9,351.5 543.0,350.7 549.7,353.2 548.1,358.3 539.6,360.8 530.3,361.6"/>
<polygon fill="#e6af2d" stroke="#e6af2d" stroke-width="0.6" points="494.0,344.2 507.0,344.2 515.1,341.5 520.5,342.9 524.6,345.6 524.4,351.5 522.7,356.6 527.8,363.3 537.9,365.0 544.7,371.8 549.7,377.7 559.9,376.9 561.6,365.0 563.3,358.3 568.3,357.4 575.1,361.6 583.5,368.4 590.3,375.2 595.4,383.6 602.1,392.1 608.9,400.5 615.6,407.3 619.8,410.6 619.8,433.9 494.0,433.9"/>
<polygon fill="#f08228" stroke="#f08228" stroke-width="0.6" points="494.0,344.8 504.1,349.8 514.3,356.6 522.7,361.6 532.9,368.4 543.0,374.3 549.7,380.2 556.5,381.1 561.6,376.9 563.3,365.0 564.9,359.1 570.0,360.8 576.8,365.9 581.8,371.8 585.2,378.5 592.0,385.3 598.7,393.7 603.8,402.2 607.2,410.6 610.6,419.1 615.6,425.8 619.8,429.2 619.8,433.9 494.0,433.9"/>
<polygon fill="#fa5a00" stroke="#fa5a00" stroke-width="0.6" points="494.0,347.3 504.1,353.2 514.3,359.1 522.7,365.0 532.9,371.8 543.0,377.7 551.4,383.6 559.9,387.0 568.3,383.6 573.4,378.5 580.1,380.2 586.9,385.3 592.0,392.1 597.0,400.5 600.4,408.9 603.8,417.4 605.5,425.8 607.2,433.9 494.0,433.9"/>
<polygon fill="#ff0000" stroke="#ff0000" stroke-width="0.6" points="494.0,349.0 504.1,355.7 514.3,361.6 524.4,368.4 534.5,374.3 544.7,381.1 554.8,388.7 563.3,397.1 570.0,403.9 578.5,408.9 588.6,412.3 595.4,415.7 597.0,422.5 597.0,429.2 595.4,433.9 494.0,433.9"/>
<polygon fill="#ff0000" stroke="#ff0000" stroke-width="0.6" points="570.9,386.1 574.2,381.9 581.8,382.8 586.9,387.0 586.1,392.1 580.1,394.6 573.4,392.1"/>
<polygon fill="#c80000" stroke="#c80000" stroke-width="0.6" points="577.6,386.1 582.7,385.6 584.4,388.7 581.0,390.7 578.1,389.5"/>
<polygon fill="#c80000" stroke="#c80000" stroke-width="0.6" points="494.0,352.4 504.1,359.1 514.3,365.0 524.4,371.8 534.5,377.7 544.7,384.5 553.1,392.1 561.6,400.5 568.3,407.3 576.8,412.3 585.2,415.7 592.0,419.1 593.7,425.8 590.3,433.9 494.0,433.9"/>
<polygon fill="#960000" stroke="#960000" stroke-width="0.6" points="494.0,371.8 504.1,376.0 514.3,380.2 527.8,383.6 541.3,387.0 549.7,388.7 554.8,395.4 559.9,402.2 564.9,408.9 571.7,415.7 578.5,422.5 583.5,427.5 586.1,433.9 494.0,433.9"/>
</g>
<clipPath id="c16"><rect x="119" y="434" width="125" height="97"/></clipPath>
<g clip-path="url(#c16)" stroke-linejoin="round">
<rect x="119" y="434" width="125" height="97" fill="#8b008b"/>
<polygon fill="#960000" stroke="#960000" stroke-width="0.6" points="146.0,434.0 152.8,437.4 161.2,444.1 169.7,449.2 178.1,450.9 186.6,452.6 193.3,456.0 200.1,459.3 203.5,462.7 210.2,459.3 220.4,457.6 230.5,459.3 238.9,461.9 244.8,463.6 244.8,434.0"/>
<polygon fill="#c80000" stroke="#c80000" stroke-width="0.6" points="155.3,434.0 162.9,439.9 171.4,445.0 179.8,447.5 188.3,449.2 195.0,453.4 200.1,456.8 206.8,456.0 213.6,454.3 223.7,455.1 233.9,457.6 244.8,461.0 244.8,434.0"/>
<polygon fill="#ff0000" stroke="#ff0000" stroke-width="0.6" points="164.6,434.0 171.4,439.9 179.8,443.3 188.3,445.8 195.0,450.9 200.1,455.1 208.5,452.6 220.4,452.6 230.5,454.3 244.8,458.5 244.8,434.0"/>
<polygon fill="#fa5a00" stroke="#fa5a00" stroke-width="0.6" points="169.7,434.0 176.4,439.1 184.9,441.6 191.6,444.1 196.7,449.2 201.8,452.6 210.2,450.0 220.4,450.0 230.5,451.7 240.6,454.3 244.8,456.0 244.8,434.0"/>
<polygon fill="#f08228" stroke="#f08228" stroke-width="0.6" points="178.1,434.0 186.6,438.2 193.3,439.9 198.4,444.1 203.5,447.5 210.2,445.8 215.3,447.5 220.4,448.4 227.1,445.8 230.5,449.2 237.2,450.9 244.8,452.6 244.8,434.0"/>
<polygon fill="#e6af2d" stroke="#e6af2d" stroke-width="0.6" points="213.6,434.0 217.0,437.4 222.0,436.5 227.1,434.0"/>
<polygon fill="#e6af2d" stroke="#e6af2d" stroke-width="0.6" points="235.6,434.0 238.9,438.2 244.8,439.1 244.8,434.0"/>
</g>
<clipPath id="c17"><rect x="244" y="434" width="125" height="97"/></clipPath>
<g clip-path="url(#c17)" stroke-linejoin="round">
<rect x="244" y="434" width="125" height="97" fill="#f08228"/>
<polygon fill="#fa5a00" stroke="#fa5a00" stroke-width="0.6" points="244.0,452.6 250.8,456.0 257.5,454.3 264.3,449.2 269.3,445.0 277.8,448.4 287.9,450.0 298.1,449.2 308.2,450.9 314.9,457.6 321.7,462.7 325.1,467.8 323.4,472.9 314.9,472.9 306.5,474.5 301.4,479.6 303.1,486.4 311.6,491.4 320.0,498.2 328.5,503.3 335.2,508.3 335.2,515.1 330.1,521.8 328.5,529.9 244.0,529.9"/>
<polygon fill="#fa5a00" stroke="#fa5a00" stroke-width="0.6" points="311.6,434.0 318.3,440.8 326.8,444.1 330.1,452.6 338.6,459.3 348.7,466.1 358.9,472.9 369.8,479.6 369.8,434.0"/>
<polygon fill="#f08228" stroke="#f08228" stroke-width="0.6" points="287.1,467.8 293.0,465.2 298.1,467.8 298.1,472.9 291.3,473.7"/>
<polygon fill="#ff0000" stroke="#ff0000" stroke-width="0.6" points="328.5,434.0 335.2,442.4 343.7,450.9 353.8,458.5 363.9,465.2 369.8,467.8 369.8,434.0"/>
<polygon fill="#c80000" stroke="#c80000" stroke-width="0.6" points="362.2,434.0 365.6,437.4 369.8,439.1 369.8,434.0"/>
<polygon fill="#e6af2d" stroke="#e6af2d" stroke-width="0.6" points="262.6,434.0 269.3,439.9 274.4,445.0 280.3,446.2 286.2,443.3 292.1,439.1 293.8,434.0"/>
<polygon fill="#e6dc32" stroke="#e6dc32" stroke-width="0.6" points="273.6,436.5 277.8,434.0 283.7,435.7 283.7,440.8 278.6,443.3 274.4,440.8"/>
<polygon fill="#e6dc32" stroke="#e6dc32" stroke-width="0.6" points="296.4,443.3 298.4,442.4 298.9,447.5 296.7,447.5"/>
<polygon fill="#e6af2d" stroke="#e6af2d" stroke-width="0.6" points="310.7,484.7 318.3,482.1 326.8,480.5 331.8,486.4 332.7,491.4 325.1,496.5 316.6,495.7 313.3,490.6"/>
<polygon fill="#e6af2d" stroke="#e6af2d" stroke-width="0.6" points="340.3,493.1 345.4,488.1 355.5,487.2 365.6,489.7 369.8,491.4 369.8,529.9 336.1,529.9 335.2,521.8 338.6,513.4 341.1,504.9"/>
<polygon fill="#e6dc32" stroke="#e6dc32" stroke-width="0.6" points="360.6,508.3 365.6,504.1 369.8,504.9 369.8,516.8 364.8,518.5 361.4,515.1"/>
<polygon fill="#e6dc32" stroke="#e6dc32" stroke-width="0.6" points="341.1,513.4 343.3,513.4 343.3,518.5 341.5,518.5"/>
<polygon fill="#e6af2d" stroke="#e6af2d" stroke-width="0.6" points="331.0,472.0 336.1,469.8 340.3,472.0 338.6,475.9 332.7,476.2"/>
<polygon fill="#ff0000" stroke="#ff0000" stroke-width="0.6" points="255.8,466.1 260.9,474.5 262.6,483.0 269.3,484.7 277.8,485.5 285.4,489.7 287.1,494.8 282.0,499.9 287.9,500.7 296.4,498.2 303.1,497.3 309.9,501.6 316.6,505.8 325.1,504.9 329.3,508.3 323.4,515.1 318.3,521.8 316.6,529.9 255.8,529.9"/>
<polygon fill="#c80000" stroke="#c80000" stroke-width="0.6" points="255.8,477.9 260.9,484.7 267.6,488.1 276.1,488.1 282.9,492.3 283.7,496.5 279.5,501.6 282.9,504.1 291.3,503.3 299.7,500.7 306.5,503.3 311.6,508.3 315.8,515.1 316.6,521.8 314.9,529.9 255.8,529.9"/>
<polygon fill="#960000" stroke="#960000" stroke-width="0.6" points="255.8,486.4 262.6,489.7 271.0,490.6 277.8,493.1 280.3,498.2 277.8,503.3 281.2,506.6 289.6,506.6 299.7,504.1 304.8,506.6 309.9,511.7 313.3,518.5 312.4,525.2 310.7,529.9 255.8,529.9"/>
<polygon fill="#8b008b" stroke="#8b008b" stroke-width="0.6" points="255.8,501.6 262.6,502.4 266.8,506.6 269.3,513.4 276.1,516.8 286.2,517.6 293.0,515.1 296.4,511.7 303.1,511.7 306.5,516.8 309.0,523.5 309.9,529.9 255.8,529.9"/>
</g>
<clipPath id="c18"><rect x="369" y="434" width="125" height="97"/></clipPath>
<g clip-path="url(#c18)" stroke-linejoin="round">
<rect x="369" y="434" width="125" height="97" fill="#960000"/>
<polygon fill="#c80000" stroke="#c80000" stroke-width="0.6" points="369.0,434.0 375.8,440.8 385.9,447.5 396.0,452.6 406.2,457.6 416.3,462.7 426.4,466.9 436.6,469.5 445.0,472.0 451.8,476.2 456.8,483.0 463.6,488.1 472.0,493.1 480.5,496.5 490.6,500.7 494.8,502.4 494.8,529.9 369.0,529.9"/>
<polygon fill="#ff0000" stroke="#ff0000" stroke-width="0.6" points="369.0,438.2 375.8,444.1 385.9,450.9 396.0,456.0 406.2,461.0 416.3,465.2 426.4,469.5 436.6,472.0 443.3,474.5 448.4,478.8 453.5,484.7 460.2,489.7 468.7,494.8 477.1,499.0 487.2,504.9 494.8,510.0 494.8,529.9 369.0,529.9"/>
<polygon fill="#fa5a00" stroke="#fa5a00" stroke-width="0.6" points="369.0,466.9 377.4,465.2 385.9,462.7 394.3,462.4 402.8,466.1 411.2,471.2 419.7,476.2 429.8,482.1 439.9,483.8 450.1,486.4 456.8,489.7 463.6,496.5 465.3,501.6 460.2,503.3 450.1,501.6 441.6,499.0 433.2,499.9 424.7,500.7 416.3,499.0 407.9,498.2 402.8,501.6 399.4,510.0 394.3,521.8 392.6,529.9 369.0,529.9"/>
<polygon fill="#f08228" stroke="#f08228" stroke-width="0.6" points="369.0,480.5 374.1,483.0 377.4,491.4 384.2,498.2 391.0,504.9 391.8,513.4 389.3,521.8 385.9,529.9 369.0,529.9"/>
<polygon fill="#f08228" stroke="#f08228" stroke-width="0.6" points="390.1,472.9 393.5,472.0 395.2,475.4 394.3,478.8 391.0,477.1"/>
<polygon fill="#e6af2d" stroke="#e6af2d" stroke-width="0.6" points="369.0,491.4 372.4,494.8 375.8,503.3 380.8,508.3 385.9,513.4 385.9,521.8 382.5,529.9 369.0,529.9"/>
<polygon fill="#e6dc32" stroke="#e6dc32" stroke-width="0.6" points="369.0,507.5 370.7,508.3 370.7,515.1 369.0,515.9"/>
<polygon fill="#c80000" stroke="#c80000" stroke-width="0.6" points="423.9,529.9 425.6,520.1 429.8,514.2 436.6,510.9 445.0,510.0 453.5,512.0 458.5,513.4 470.4,518.5 483.9,521.8 494.8,524.4 494.8,529.9"/>
<polygon fill="#960000" stroke="#960000" stroke-width="0.6" points="426.4,529.9 428.1,521.0 433.2,515.9 439.9,513.4 446.7,513.7 450.1,516.8 453.5,521.8 460.2,526.1 467.0,528.6 470.4,529.9"/>
<polygon fill="#8b008b" stroke="#8b008b" stroke-width="0.6" points="396.0,442.1 402.8,437.4 405.3,434.0 414.6,434.0 418.0,440.8 418.8,449.2 413.8,455.1 407.9,450.0 402.8,445.8"/>
<polygon fill="#8b008b" stroke="#8b008b" stroke-width="0.6" points="418.0,454.6 424.7,452.9 431.5,454.3 438.3,457.6 442.0,460.2 436.6,461.9 428.1,461.0 423.1,456.8"/>
</g>
<clipPath id="c19"><rect x="494" y="434" width="126" height="97"/></clipPath>
<g clip-path="url(#c19)" stroke-linejoin="round">
<rect x="494" y="434" width="126" height="97" fill="#960000"/>
<polygon fill="#8b008b" stroke="#8b008b" stroke-width="0.6" points="524.4,517.6 536.2,519.3 543.0,511.7 551.4,508.3 553.1,501.6 548.1,496.5 543.0,492.3 541.3,484.7 544.7,477.9 553.1,474.5 559.9,466.1 566.6,464.1 575.1,466.1 576.8,461.0 579.3,460.2 580.1,467.8 580.1,476.2 581.0,484.7 580.1,493.1 577.6,500.7 581.8,506.6 583.5,515.1 578.5,521.8 579.3,529.9 530.3,529.9"/>
<polygon fill="#c80000" stroke="#c80000" stroke-width="0.6" points="586.1,434.0 584.4,442.4 585.2,450.9 589.4,454.3 587.8,462.7 585.2,472.9 590.3,477.9 588.6,482.1 583.5,484.7 581.8,491.4 580.1,498.2 578.5,501.6 583.5,506.6 586.9,513.4 586.9,521.8 581.8,529.9 619.8,529.9 619.8,434.0"/>
<polygon fill="#ff0000" stroke="#ff0000" stroke-width="0.6" points="593.7,434.0 590.3,440.8 589.4,450.9 592.0,457.6 591.1,467.8 593.7,476.2 595.4,484.7 593.7,493.1 590.3,501.6 590.3,510.0 592.0,518.5 590.3,529.9 619.8,529.9 619.8,434.0"/>
<polygon fill="#fa5a00" stroke="#fa5a00" stroke-width="0.6" points="598.7,434.0 597.0,442.4 597.9,452.6 600.4,461.0 603.8,467.8 612.2,470.3 619.8,470.3 619.8,434.0"/>
<polygon fill="#fa5a00" stroke="#fa5a00" stroke-width="0.6" points="619.8,496.5 612.2,498.2 605.5,501.6 603.8,508.3 605.5,515.1 600.4,520.1 595.4,525.2 592.0,529.9 619.8,529.9"/>
<polygon fill="#f08228" stroke="#f08228" stroke-width="0.6" points="607.2,434.0 608.9,440.8 612.2,449.2 613.9,457.6 616.5,461.0 619.8,461.0 619.8,434.0"/>
<polygon fill="#f08228" stroke="#f08228" stroke-width="0.6" points="619.8,515.1 612.2,518.5 605.5,523.5 598.7,526.9 597.0,529.9 619.8,529.9"/>
<polygon fill="#e6dc32" stroke="#e6dc32" stroke-width="0.6" points="615.6,440.8 619.8,439.1 619.8,445.8 616.5,445.0"/>
<polygon fill="#c80000" stroke="#c80000" stroke-width="0.6" points="494.0,499.0 499.1,501.6 504.1,508.3 512.6,515.9 521.0,523.5 525.2,529.9 494.0,529.9"/>
<polygon fill="#ff0000" stroke="#ff0000" stroke-width="0.6" points="494.0,506.6 499.1,510.0 505.8,516.8 514.3,523.5 519.3,529.9 494.0,529.9"/>
</g>
<line x1="136.5" y1="48" x2="136.5" y2="530" stroke="#8a8a8e" stroke-width="1" stroke-dasharray="2 4" shape-rendering="crispEdges"/>
<line x1="196.5" y1="48" x2="196.5" y2="530" stroke="#8a8a8e" stroke-width="1" stroke-dasharray="2 4" shape-rendering="crispEdges"/>
<line x1="256.5" y1="48" x2="256.5" y2="530" stroke="#8a8a8e" stroke-width="1" stroke-dasharray="2 4" shape-rendering="crispEdges"/>
<line x1="316.5" y1="48" x2="316.5" y2="530" stroke="#8a8a8e" stroke-width="1" stroke-dasharray="2 4" shape-rendering="crispEdges"/>
<line x1="377.5" y1="48" x2="377.5" y2="530" stroke="#8a8a8e" stroke-width="1" stroke-dasharray="2 4" shape-rendering="crispEdges"/>
<line x1="437.5" y1="48" x2="437.5" y2="530" stroke="#8a8a8e" stroke-width="1" stroke-dasharray="2 4" shape-rendering="crispEdges"/>
<line x1="497.5" y1="48" x2="497.5" y2="530" stroke="#8a8a8e" stroke-width="1" stroke-dasharray="2 4" shape-rendering="crispEdges"/>
<line x1="558.5" y1="48" x2="558.5" y2="530" stroke="#8a8a8e" stroke-width="1" stroke-dasharray="2 4" shape-rendering="crispEdges"/>
<line x1="117" y1="106.5" x2="619" y2="106.5" stroke="#8a8a8e" stroke-width="1" stroke-dasharray="2 4" shape-rendering="crispEdges"/>
<line x1="117" y1="180.5" x2="619" y2="180.5" stroke="#8a8a8e" stroke-width="1" stroke-dasharray="2 4" shape-rendering="crispEdges"/>
<line x1="117" y1="254.5" x2="619" y2="254.5" stroke="#8a8a8e" stroke-width="1" stroke-dasharray="2 4" shape-rendering="crispEdges"/>
<line x1="117" y1="328.5" x2="619" y2="328.5" stroke="#8a8a8e" stroke-width="1" stroke-dasharray="2 4" shape-rendering="crispEdges"/>
<line x1="117" y1="401.5" x2="619" y2="401.5" stroke="#8a8a8e" stroke-width="1" stroke-dasharray="2 4" shape-rendering="crispEdges"/>
<line x1="117" y1="475.5" x2="619" y2="475.5" stroke="#8a8a8e" stroke-width="1" stroke-dasharray="2 4" shape-rendering="crispEdges"/>
<g clip-path="url(#c0)" fill="none" stroke="#6b6b6b" stroke-width="2.2" stroke-linejoin="round" stroke-linecap="round">
<polyline points="157.0,52.0 162.9,55.1 174.7,57.1 186.6,60.5 198.4,62.2 210.2,64.4 220.4,65.5 233.9,66.9 244.0,66.9"/>
<polyline points="239.8,66.9 238.1,72.0 227.1,77.9 219.5,83.8 221.2,88.9 228.8,90.5 235.6,93.1 230.5,99.0 225.4,105.7 233.9,107.1 232.2,117.6 233.9,121.8 244.0,125.2"/>
<polyline points="146.0,145.9 157.9,139.5 164.6,137.5 171.4,139.5 164.6,142.6 160.4,145.9"/>
<polyline points="161.2,145.4 174.7,140.4 186.6,135.3 195.0,131.1 200.1,126.9 201.8,123.5 210.2,122.3 218.7,124.3 222.0,129.1 227.1,124.3 230.5,121.8"/>
<polyline points="244.0,134.5 241.5,136.7 239.1,138.0 232.0,141.7 225.8,143.2 226.8,145.9"/>
<polyline points="231.5,143.2 235.7,146.6"/>
</g>
<g clip-path="url(#c1)" fill="none" stroke="#6b6b6b" stroke-width="2.2" stroke-linejoin="round" stroke-linecap="round">
<polyline points="244.0,66.9 254.1,67.7 264.3,72.8 277.8,75.3 289.6,75.3 299.7,71.1 305.7,66.0 309.0,60.5 318.3,58.4 331.8,57.6 345.4,56.8 355.5,54.2 369.0,52.5"/>
<polyline points="249.1,145.9 260.9,143.8 272.7,142.6 280.3,141.2 287.9,134.5 291.3,130.7 294.7,134.5 301.4,141.2 306.5,144.6 314.9,142.9 323.4,145.9"/>
<polyline points="369.0,88.9 357.2,89.7 353.8,94.8 355.5,99.0 360.6,100.7 360.2,115.9 353.8,117.6 345.4,119.3 336.9,123.5 334.4,129.4 337.8,127.7 335.2,137.8 332.7,145.9"/>
<polyline points="244.0,122.6 247.4,126.0 250.8,132.8 244.0,136.1"/>
</g>
<g clip-path="url(#c2)" fill="none" stroke="#6b6b6b" stroke-width="2.2" stroke-linejoin="round" stroke-linecap="round">
<polyline points="398.6,52.0 402.8,60.1 409.5,68.6 418.0,72.0 424.7,77.0 429.8,81.2 431.5,86.3 436.6,89.7 445.0,92.2 450.1,96.5 453.5,104.1 460.2,110.0 470.4,110.8 477.1,116.7 483.9,120.1 494.0,121.8"/>
<polyline points="369.0,87.2 375.8,84.6 381.7,81.2 383.4,77.0 391.0,75.0 393.5,70.3 394.3,66.9 404.5,66.9 409.5,68.6"/>
</g>
<g clip-path="url(#c3)" fill="none" stroke="#6b6b6b" stroke-width="2.2" stroke-linejoin="round" stroke-linecap="round">
<polyline points="494.0,121.8 510.9,122.3 519.3,125.2 524.4,125.2 532.9,119.3 541.3,113.3 546.4,114.2 558.2,109.1 563.3,104.9 568.3,106.6 575.1,106.6 583.5,101.5 588.6,96.5 591.1,93.1 605.5,93.9 619.8,94.3"/>
<polyline points="546.4,114.2 551.4,118.4 556.5,122.6 555.7,132.8 552.3,137.0 554.0,140.4 559.0,142.1 561.6,139.5 564.1,142.6 561.6,145.9"/>
</g>
<g clip-path="url(#c4)" fill="none" stroke="#6b6b6b" stroke-width="2.2" stroke-linejoin="round" stroke-linecap="round">
<polyline points="151.9,146.0 146.0,152.8 144.3,158.7 148.6,163.7 152.8,168.8 157.0,175.6 161.2,178.9 168.0,180.6 167.1,186.5 163.8,192.5 159.5,191.6 161.2,187.4 159.5,194.1 155.3,192.5 151.9,191.6 150.2,198.4 150.2,204.3 151.9,213.6 153.6,220.3 156.2,227.1 158.7,233.8 162.9,241.9"/>
<polyline points="163.8,146.0 157.9,149.4 153.6,155.3"/>
<polyline points="226.3,146.0 228.8,152.8 231.8,159.5 233.5,168.0 238.1,174.7 242.3,179.8 244.8,185.7"/>
<polyline points="233.9,146.5 244.8,146.5"/>
</g>
<g clip-path="url(#c5)" fill="none" stroke="#6b6b6b" stroke-width="2.2" stroke-linejoin="round" stroke-linecap="round">
<polyline points="244.0,184.9 250.8,195.8 255.8,191.6 256.7,185.7 262.6,180.6 267.6,173.0 271.9,162.9 275.2,153.6"/>
<polyline points="275.2,153.6 282.9,156.1 288.8,160.4 294.7,164.6 301.4,168.8 307.3,171.3 310.7,178.9 311.6,188.2 310.7,196.7 314.9,203.4 318.3,210.2 323.4,216.9 330.1,225.4 335.2,230.5 342.0,232.1 348.7,233.8"/>
<polyline points="289.6,162.0 294.7,169.6 299.7,174.7 304.0,179.8 301.4,182.3 294.7,180.6 287.1,177.2 282.9,173.9 286.2,168.0 289.6,162.0"/>
<polyline points="273.6,168.0 277.8,167.1 279.5,176.4 281.2,188.2 284.5,198.4 287.9,206.0 285.4,208.5 282.0,203.4 279.5,195.0 276.9,186.5 276.1,176.4 273.6,171.3 273.6,168.0"/>
<polyline points="277.8,200.1 280.3,208.5 286.2,215.3 289.6,217.8 287.9,219.5 281.2,213.6 277.8,206.8 277.8,200.1"/>
<polyline points="300.6,201.7 308.2,208.5 316.6,215.3 323.4,222.0 328.5,228.8 331.8,230.5 330.1,233.0 325.1,233.8 328.5,241.9"/>
<polyline points="303.1,205.1 311.6,213.6 320.0,222.0 325.1,230.5 323.4,234.7 327.6,240.6"/>
<polyline points="322.5,146.0 326.8,148.0 331.8,146.8"/>
<polyline points="369.8,162.9 364.8,164.6 363.1,171.3 363.9,183.2 361.4,192.5 365.6,196.7 369.8,200.9"/>
</g>
<g clip-path="url(#c6)" fill="none" stroke="#6b6b6b" stroke-width="2.2" stroke-linejoin="round" stroke-linecap="round">
<polyline points="369.0,162.9 376.6,162.9 382.5,169.6 389.3,177.2 395.2,179.8 399.4,174.7 404.5,166.3 409.5,162.0 418.0,163.7 426.4,165.4 432.3,159.5 438.3,162.9 445.0,167.1 451.8,168.8 455.1,166.3 463.6,169.6 470.4,172.2 478.8,170.5 487.2,175.6 494.8,173.9"/>
<polyline points="369.0,200.9 374.9,201.7 378.3,210.2 384.2,216.9 387.6,225.4 388.4,232.1 385.9,238.1 396.0,240.6"/>
</g>
<g clip-path="url(#c7)" fill="none" stroke="#6b6b6b" stroke-width="2.2" stroke-linejoin="round" stroke-linecap="round">
<polyline points="494.0,173.0 500.8,171.7 505.8,173.9 510.9,172.2 514.3,170.5 522.7,171.3 532.9,173.4 541.3,177.2 545.5,181.5 544.7,185.7 549.7,189.1 556.5,190.8 563.3,188.2 566.6,186.2 575.1,185.7 581.8,187.4 579.3,195.0 576.8,201.7 571.7,208.5 566.6,214.4 564.9,220.3 564.6,227.1 568.3,232.1 575.1,234.7 581.8,238.1 585.2,241.9"/>
<polyline points="557.3,146.0 557.3,151.1 561.6,155.3 568.3,158.7 576.8,162.0 583.5,162.9 584.4,165.4 578.5,166.6 571.7,164.9 568.3,163.7 565.8,169.6 564.6,175.6 563.3,180.6 559.9,185.7 559.0,188.2"/>
</g>
<g clip-path="url(#c8)" fill="none" stroke="#6b6b6b" stroke-width="2.2" stroke-linejoin="round" stroke-linecap="round">
<polyline points="162.1,242.0 169.7,247.9 178.1,254.7 186.6,256.4 195.0,262.3 200.1,267.3 206.8,273.2 215.3,278.3 222.0,281.7 227.1,281.7 232.2,285.1 235.6,292.7 238.9,301.1 242.3,309.6 244.8,314.6"/>
<polyline points="159.5,258.0 163.8,254.7 166.6,256.4 165.5,259.7 162.1,260.9 159.5,258.0"/>
</g>
<g clip-path="url(#c9)" fill="none" stroke="#6b6b6b" stroke-width="2.2" stroke-linejoin="round" stroke-linecap="round">
<polyline points="307.3,242.0 313.3,247.1 318.3,252.1 323.4,257.2 328.5,258.0 331.0,259.7 330.1,262.6 326.8,263.1 323.4,259.7 320.0,254.7"/>
<polyline points="328.5,242.0 333.5,248.8 340.3,255.5 348.7,260.6 358.9,267.3 369.8,273.2"/>
<polyline points="244.0,311.3 247.4,321.4 249.9,329.8 252.4,337.9"/>
</g>
<g clip-path="url(#c10)" fill="none" stroke="#6b6b6b" stroke-width="2.2" stroke-linejoin="round" stroke-linecap="round">
<polyline points="395.2,242.0 397.7,247.1 402.8,251.3 409.5,253.0 416.3,259.7 423.1,267.3 428.1,275.8 434.9,282.5 441.6,287.6 448.4,291.0 453.5,293.5 454.3,299.4 456.8,306.2 461.9,311.3 468.7,316.3 475.4,321.4 478.8,325.6 477.1,331.5 470.4,331.5 467.0,329.8"/>
<polyline points="369.0,274.1 373.2,278.3 374.1,284.2 379.1,290.1 385.9,291.0 391.0,287.6 399.4,286.8 406.2,288.5 412.9,291.8 421.4,296.1 429.8,298.6 436.6,302.8 443.3,309.6 450.1,313.8 456.8,317.2 463.6,323.1 468.7,328.1 473.7,332.4 477.1,334.9 482.2,333.2 487.2,334.1 489.8,337.9"/>
<polyline points="402.8,299.4 411.2,298.6 421.4,300.3 428.1,302.8 429.8,306.2 424.7,307.9 414.6,307.0 406.2,306.2 402.4,303.7 402.8,299.4"/>
<polyline points="400.2,312.9 407.9,310.9 416.3,311.3 424.7,314.3 436.6,316.3 443.3,317.2 443.3,319.4 433.2,318.9 421.4,317.2 412.9,317.2 405.3,316.3 400.2,312.9"/>
<polyline points="380.0,322.2 385.9,320.5 391.8,322.2 391.0,325.6 385.0,326.8 380.0,324.8 380.0,322.2"/>
<polyline points="415.5,328.5 423.1,327.3 433.2,327.3 441.6,328.1 448.4,330.7 446.7,334.1 436.6,334.6 426.4,334.9 418.0,332.4 415.5,328.5"/>
<polyline points="438.3,323.9 448.4,325.6 458.5,328.1 467.0,330.7 473.7,334.1 470.4,334.9 460.2,331.5 448.4,328.1 438.3,325.6"/>
</g>
<g clip-path="url(#c11)" fill="none" stroke="#6b6b6b" stroke-width="2.2" stroke-linejoin="round" stroke-linecap="round">
<polyline points="525.2,337.9 526.9,328.1 536.2,323.1 537.9,312.9 541.3,306.2 546.4,302.0 552.3,300.3 555.7,304.5 557.3,308.7 561.6,309.6 563.3,305.3 560.7,297.7 557.3,292.7 554.8,290.1 558.2,285.9 564.9,286.8 572.5,288.5 580.1,285.1 587.8,282.5 589.4,275.8 586.1,268.2 580.1,262.3 575.1,258.0 572.5,253.0 581.8,256.4 591.1,256.4 596.2,250.4 593.7,247.1 586.1,242.8 583.5,242.0"/>
<polyline points="572.5,288.5 573.4,291.8 581.8,296.9 590.3,304.5 597.0,313.8 605.5,316.3 619.8,321.1"/>
</g>
<g clip-path="url(#c12)" fill="none" stroke="#6b6b6b" stroke-width="2.2" stroke-linejoin="round" stroke-linecap="round">
<polyline points="121.0,391.2 125.8,397.1 130.8,398.8 135.9,401.3 141.0,405.6 146.0,412.3 149.4,417.4 154.5,421.6 159.5,426.7 164.6,430.9 168.0,433.9"/>
<polyline points="160.9,407.9 163.8,407.9"/>
</g>
<g clip-path="url(#c13)" fill="none" stroke="#6b6b6b" stroke-width="2.2" stroke-linejoin="round" stroke-linecap="round">
<polyline points="251.6,338.0 254.1,346.4 259.2,354.9 267.6,365.0 276.1,373.5 284.5,381.1 291.3,386.1 298.1,387.8 300.6,393.7 308.2,398.8 316.6,401.3 320.0,404.7 326.8,406.9 335.2,407.6 345.4,407.3 355.5,406.4 369.8,406.4"/>
</g>
<g clip-path="url(#c14)" fill="none" stroke="#6b6b6b" stroke-width="2.2" stroke-linejoin="round" stroke-linecap="round">
<polyline points="369.0,405.6 375.8,404.2 382.5,405.9 387.6,410.6 389.3,415.7 386.7,421.6 380.8,425.8 374.1,427.5 369.8,430.1 369.0,433.4"/>
<polyline points="456.8,343.1 460.2,341.4 470.4,343.1 478.8,346.4 482.2,349.0 480.5,350.2 470.4,347.3 461.1,345.6 456.8,343.1"/>
<polyline points="487.2,338.0 494.8,343.1"/>
</g>
<g clip-path="url(#c15)" fill="none" stroke="#6b6b6b" stroke-width="2.2" stroke-linejoin="round" stroke-linecap="round">
<polyline points="494.0,344.8 502.4,349.8 510.9,354.9 519.3,355.7 524.4,360.0 526.1,367.6 532.9,370.9 539.6,371.8 544.7,376.0 551.4,380.2 556.5,387.0 561.6,393.7 566.6,400.5 568.3,404.7 575.1,407.3 581.8,410.6 590.3,412.3 594.5,415.7 593.7,422.5 595.4,427.5 591.1,432.6 589.4,433.9"/>
<polyline points="525.2,338.0 526.9,344.8 532.9,349.8 531.2,354.9 525.2,358.3 525.2,367.6 529.5,370.9 533.7,367.6 539.6,368.4 540.5,370.1 534.5,372.6 532.0,370.9"/>
<polyline points="578.5,410.6 580.1,402.2 581.8,395.4 576.8,390.4 576.8,386.1 581.8,381.9 588.6,371.8 595.4,360.0 598.7,354.0 603.0,352.4 603.8,358.3 607.2,364.2 612.2,365.0 619.8,361.6"/>
</g>
<g clip-path="url(#c16)" fill="none" stroke="#6b6b6b" stroke-width="2.2" stroke-linejoin="round" stroke-linecap="round">
<polyline points="168.0,434.0 173.1,439.1 183.2,442.4 190.8,445.8 195.0,450.9 197.5,455.1 203.5,456.0 210.2,452.9 220.4,453.9 230.5,455.1 240.6,458.5 244.8,461.0"/>
</g>
<g clip-path="url(#c17)" fill="none" stroke="#6b6b6b" stroke-width="2.2" stroke-linejoin="round" stroke-linecap="round">
<polyline points="244.0,459.3 246.0,462.4"/>
<polyline points="256.7,475.4 258.4,483.0 262.6,488.1 269.3,487.7 276.1,487.7 282.9,491.4 284.5,494.8 280.3,499.9 277.8,502.4 282.9,503.3 291.3,500.7 299.7,499.0 304.8,500.7 309.9,506.6 314.1,512.5 316.6,518.5 314.1,525.2 311.6,529.4"/>
</g>
<g clip-path="url(#c18)" fill="none" stroke="#6b6b6b" stroke-width="2.2" stroke-linejoin="round" stroke-linecap="round">
<polyline points="369.0,434.0 375.8,441.6 385.9,447.5 396.0,452.9 406.2,458.5 416.3,462.7 426.4,466.9 436.6,469.5 445.0,471.5 451.8,475.4 456.8,481.3 463.6,487.2 472.0,491.4 480.5,495.1 490.6,499.0 494.8,500.2"/>
<polyline points="423.1,528.6 428.1,518.5 434.9,511.7 441.6,509.2 450.1,510.9 456.8,512.5 451.8,515.1 450.9,517.6 456.8,521.8 463.6,525.2 470.4,526.9 483.9,526.1 494.8,528.6"/>
</g>
<g clip-path="url(#c19)" fill="none" stroke="#6b6b6b" stroke-width="2.2" stroke-linejoin="round" stroke-linecap="round">
<polyline points="589.4,434.0 586.1,440.8 585.2,450.9 589.4,453.4 586.9,462.7 585.2,472.0 590.3,478.8 587.8,482.1 582.7,484.7 581.0,492.3 577.6,500.7 581.8,504.9 586.1,508.3 587.8,515.1 586.1,523.5 581.8,518.5 577.6,515.9 575.9,518.5 580.1,524.4 582.7,528.6"/>
<polyline points="494.0,499.0 498.2,500.7 500.8,506.6 509.2,515.1 517.6,521.8 524.4,528.6"/>
</g>
</g>
<rect x="516" y="51" width="103" height="42" fill="#fff" stroke="#000" stroke-width="1"/>
<rect x="120" y="465.5" width="135.5" height="65" fill="#fff" stroke="#000" stroke-width="1.5"/>
<rect x="120" y="51" width="499" height="479" fill="none" stroke="#000" stroke-width="2"/>
<line x1="136.0" y1="530" x2="136.0" y2="534" stroke="#000" stroke-width="1"/>
<line x1="196.3" y1="530" x2="196.3" y2="534" stroke="#000" stroke-width="1"/>
<line x1="256.6" y1="530" x2="256.6" y2="534" stroke="#000" stroke-width="1"/>
<line x1="316.9" y1="530" x2="316.9" y2="534" stroke="#000" stroke-width="1"/>
<line x1="377.2" y1="530" x2="377.2" y2="534" stroke="#000" stroke-width="1"/>
<line x1="437.5" y1="530" x2="437.5" y2="534" stroke="#000" stroke-width="1"/>
<line x1="497.8" y1="530" x2="497.8" y2="534" stroke="#000" stroke-width="1"/>
<line x1="558.1" y1="530" x2="558.1" y2="534" stroke="#000" stroke-width="1"/>
<line x1="618.4" y1="530" x2="618.4" y2="534" stroke="#000" stroke-width="1"/>
<line x1="116.5" y1="106.7" x2="120" y2="106.7" stroke="#000" stroke-width="1"/>
<line x1="116.5" y1="180.5" x2="120" y2="180.5" stroke="#000" stroke-width="1"/>
<line x1="116.5" y1="254.3" x2="120" y2="254.3" stroke="#000" stroke-width="1"/>
<line x1="116.5" y1="328.1" x2="120" y2="328.1" stroke="#000" stroke-width="1"/>
<line x1="116.5" y1="401.9" x2="120" y2="401.9" stroke="#000" stroke-width="1"/>
<line x1="116.5" y1="475.7" x2="120" y2="475.7" stroke="#000" stroke-width="1"/>
<rect x="652" y="77.00" width="15" height="18.92" fill="#ffefdc"/>
<rect x="652" y="95.62" width="15" height="18.92" fill="#d8bfd8"/>
<rect x="652" y="114.24" width="15" height="18.92" fill="#dda0dd"/>
<rect x="652" y="132.86" width="15" height="18.92" fill="#ba55d3"/>
<rect x="652" y="151.48" width="15" height="18.92" fill="#8b008b"/>
<rect x="652" y="170.10" width="15" height="18.92" fill="#960000"/>
<rect x="652" y="188.72" width="15" height="18.92" fill="#c80000"/>
<rect x="652" y="207.34" width="15" height="18.92" fill="#ff0000"/>
<rect x="652" y="225.96" width="15" height="18.92" fill="#fa5a00"/>
<rect x="652" y="244.58" width="15" height="18.92" fill="#f08228"/>
<rect x="652" y="263.20" width="15" height="18.92" fill="#e6af2d"/>
<rect x="652" y="281.82" width="15" height="18.92" fill="#e6dc32"/>
<rect x="652" y="300.44" width="15" height="18.92" fill="#f5f064"/>
<rect x="652" y="319.06" width="15" height="18.92" fill="#e6f5aa"/>
<rect x="652" y="337.68" width="15" height="18.92" fill="#a0e632"/>
<rect x="652" y="356.30" width="15" height="18.92" fill="#00dc00"/>
<rect x="652" y="374.92" width="15" height="18.92" fill="#00a500"/>
<rect x="652" y="393.54" width="15" height="18.92" fill="#007800"/>
<rect x="652" y="412.16" width="15" height="18.92" fill="#1e3cff"/>
<rect x="652" y="430.78" width="15" height="18.92" fill="#00a0e6"/>
<rect x="652" y="449.40" width="15" height="18.92" fill="#b0e0e6"/>
<rect x="652" y="468.02" width="15" height="18.92" fill="#e0ffff"/>
</svg>
<span class="t" style="left:170.65px;top:27px;font-size:15.5px;letter-spacing:1.12px;color:#222;">Temperatura</span>
<span class="t" style="left:279.27px;top:27px;font-size:15.5px;letter-spacing:1.08px;color:#222;">zraka</span>
<span class="t" style="left:330.87px;top:27px;font-size:15.5px;letter-spacing:0.79px;color:#222;">na</span>
<span class="t" style="left:358.92px;top:27px;font-size:15.5px;letter-spacing:2.57px;color:#222;">2m</span>
<span class="t" style="left:393.79px;top:27px;font-size:15.5px;letter-spacing:0.00px;color:#222;">u</span>
<span class="t" style="left:411.62px;top:27px;font-size:15.5px;letter-spacing:-0.00px;color:#222;">21</span>
<span class="t" style="left:440.60px;top:27px;font-size:15.5px;letter-spacing:-1.33px;color:#222;">UTC</span>
<span class="t" style="left:480.52px;top:27px;font-size:15.5px;letter-spacing:0.57px;color:#222;">16OCT2013</span>
<span class="t" style="left:96.47px;top:103px;font-size:10px;letter-spacing:0.15px;color:#222;">46N</span>
<span class="t" style="left:96.47px;top:177px;font-size:10px;letter-spacing:0.15px;color:#222;">45N</span>
<span class="t" style="left:96.47px;top:251px;font-size:10px;letter-spacing:0.15px;color:#222;">44N</span>
<span class="t" style="left:96.47px;top:324px;font-size:10px;letter-spacing:0.15px;color:#222;">43N</span>
<span class="t" style="left:96.47px;top:398px;font-size:10px;letter-spacing:0.15px;color:#222;">42N</span>
<span class="t" style="left:96.47px;top:472px;font-size:10px;letter-spacing:0.15px;color:#222;">41N</span>
<span class="t" style="left:127.94px;top:536px;font-size:10px;letter-spacing:-0.70px;color:#222;">12E</span>
<span class="t" style="left:188.24px;top:536px;font-size:10px;letter-spacing:-0.70px;color:#222;">13E</span>
<span class="t" style="left:248.54px;top:536px;font-size:10px;letter-spacing:-0.70px;color:#222;">14E</span>
<span class="t" style="left:308.84px;top:536px;font-size:10px;letter-spacing:-0.70px;color:#222;">15E</span>
<span class="t" style="left:369.14px;top:536px;font-size:10px;letter-spacing:-0.70px;color:#222;">16E</span>
<span class="t" style="left:429.44px;top:536px;font-size:10px;letter-spacing:-0.70px;color:#222;">17E</span>
<span class="t" style="left:489.74px;top:536px;font-size:10px;letter-spacing:-0.70px;color:#222;">18E</span>
<span class="t" style="left:550.04px;top:536px;font-size:10px;letter-spacing:-0.70px;color:#222;">19E</span>
<span class="t" style="left:610.60px;top:536px;font-size:10px;letter-spacing:-0.83px;color:#222;">20E</span>
<span class="t" style="left:669.55px;top:70px;font-size:13px;letter-spacing:1.11px;color:#222;">29</span>
<span class="t" style="left:669.55px;top:89px;font-size:13px;letter-spacing:1.15px;color:#222;">27</span>
<span class="t" style="left:669.55px;top:107px;font-size:13px;letter-spacing:1.04px;color:#222;">25</span>
<span class="t" style="left:669.55px;top:126px;font-size:13px;letter-spacing:1.07px;color:#222;">23</span>
<span class="t" style="left:669.55px;top:144px;font-size:13px;letter-spacing:-0.17px;color:#222;">21</span>
<span class="t" style="left:670.41px;top:163px;font-size:13px;letter-spacing:1.05px;color:#222;">19</span>
<span class="t" style="left:670.41px;top:182px;font-size:13px;letter-spacing:1.08px;color:#222;">17</span>
<span class="t" style="left:670.41px;top:200px;font-size:13px;letter-spacing:0.98px;color:#222;">15</span>
<span class="t" style="left:670.41px;top:219px;font-size:13px;letter-spacing:1.00px;color:#222;">13</span>
<span class="t" style="left:670.41px;top:237px;font-size:13px;letter-spacing:-0.23px;color:#222;">11</span>
<span class="t" style="left:669.59px;top:256px;font-size:13px;letter-spacing:0.00px;color:#222;">9</span>
<span class="t" style="left:669.53px;top:275px;font-size:13px;letter-spacing:0.00px;color:#222;">7</span>
<span class="t" style="left:669.68px;top:293px;font-size:13px;letter-spacing:0.00px;color:#222;">5</span>
<span class="t" style="left:669.70px;top:312px;font-size:13px;letter-spacing:0.00px;color:#222;">3</span>
<span class="t" style="left:669.21px;top:331px;font-size:13px;letter-spacing:0.00px;color:#222;">1</span>
<div style="position:absolute;left:671px;top:356px;width:7px;height:1px;background:#222"></div>
<span class="t" style="left:681.01px;top:349px;font-size:13px;letter-spacing:0.00px;color:#222;">1</span>
<div style="position:absolute;left:671px;top:374px;width:7px;height:1px;background:#222"></div>
<span class="t" style="left:680.30px;top:368px;font-size:13px;letter-spacing:0.00px;color:#222;">3</span>
<div style="position:absolute;left:671px;top:393px;width:7px;height:1px;background:#222"></div>
<span class="t" style="left:680.28px;top:386px;font-size:13px;letter-spacing:0.00px;color:#222;">5</span>
<div style="position:absolute;left:671px;top:411px;width:7px;height:1px;background:#222"></div>
<span class="t" style="left:680.13px;top:405px;font-size:13px;letter-spacing:0.00px;color:#222;">7</span>
<div style="position:absolute;left:671px;top:430px;width:7px;height:1px;background:#222"></div>
<span class="t" style="left:680.19px;top:424px;font-size:13px;letter-spacing:0.00px;color:#222;">9</span>
<div style="position:absolute;left:671px;top:449px;width:7px;height:1px;background:#222"></div>
<span class="t" style="left:680.51px;top:442px;font-size:13px;letter-spacing:0.27px;color:#222;">11</span>
<div style="position:absolute;left:671px;top:467px;width:7px;height:1px;background:#222"></div>
<span class="t" style="left:681.01px;top:461px;font-size:13px;letter-spacing:0.10px;color:#222;">13</span>
<div style="position:absolute;left:671px;top:486px;width:7px;height:1px;background:#222"></div>
<span class="t" style="left:681.01px;top:480px;font-size:13px;letter-spacing:0.08px;color:#222;">15</span>
<div style="position:absolute;left:671px;top:505px;width:7px;height:1px;background:#222"></div>
<span class="t" style="left:681.01px;top:498px;font-size:13px;letter-spacing:0.18px;color:#222;">17</span>
<span class="t" style="left:663.38px;top:521px;font-size:10px;letter-spacing:1.55px;color:#222;">(st. C)</span>
<span class="t" style="left:148.28px;top:475px;font-size:10px;letter-spacing:0.97px;color:#000;">Temperatura zraka</span>
<span class="t" style="left:172.04px;top:489px;font-size:10px;letter-spacing:1.58px;color:#000;">na 2m (st. C)</span>
<span class="t" style="left:142.12px;top:502px;font-size:10px;letter-spacing:1.26px;color:#000;">start 00z15oct2013</span>
<span class="t" style="left:129.35px;top:516px;font-size:10px;letter-spacing:0.95px;color:#000;">termin 21Z16OCT2013</span>
<span class="t" style="left:547.51px;top:61px;font-size:21.2px;letter-spacing:0.70px;color:#1e3cff;transform:scaleX(0.9158);transform-origin:0 0;-webkit-text-stroke:0.35px #1e3cff">DHMZ</span>
<svg style="position:absolute;left:528px;top:63px" width="18" height="18" viewBox="0 0 18 18"><circle cx="9" cy="9.1" r="6.9" fill="none" stroke="#1e3cff" stroke-width="1.1"/><path d="M11.9 7.4 A3.3 3.3 0 1 0 11.9 10.8" fill="none" stroke="#1e3cff" stroke-width="1.9"/></svg>
</div></body></html>
